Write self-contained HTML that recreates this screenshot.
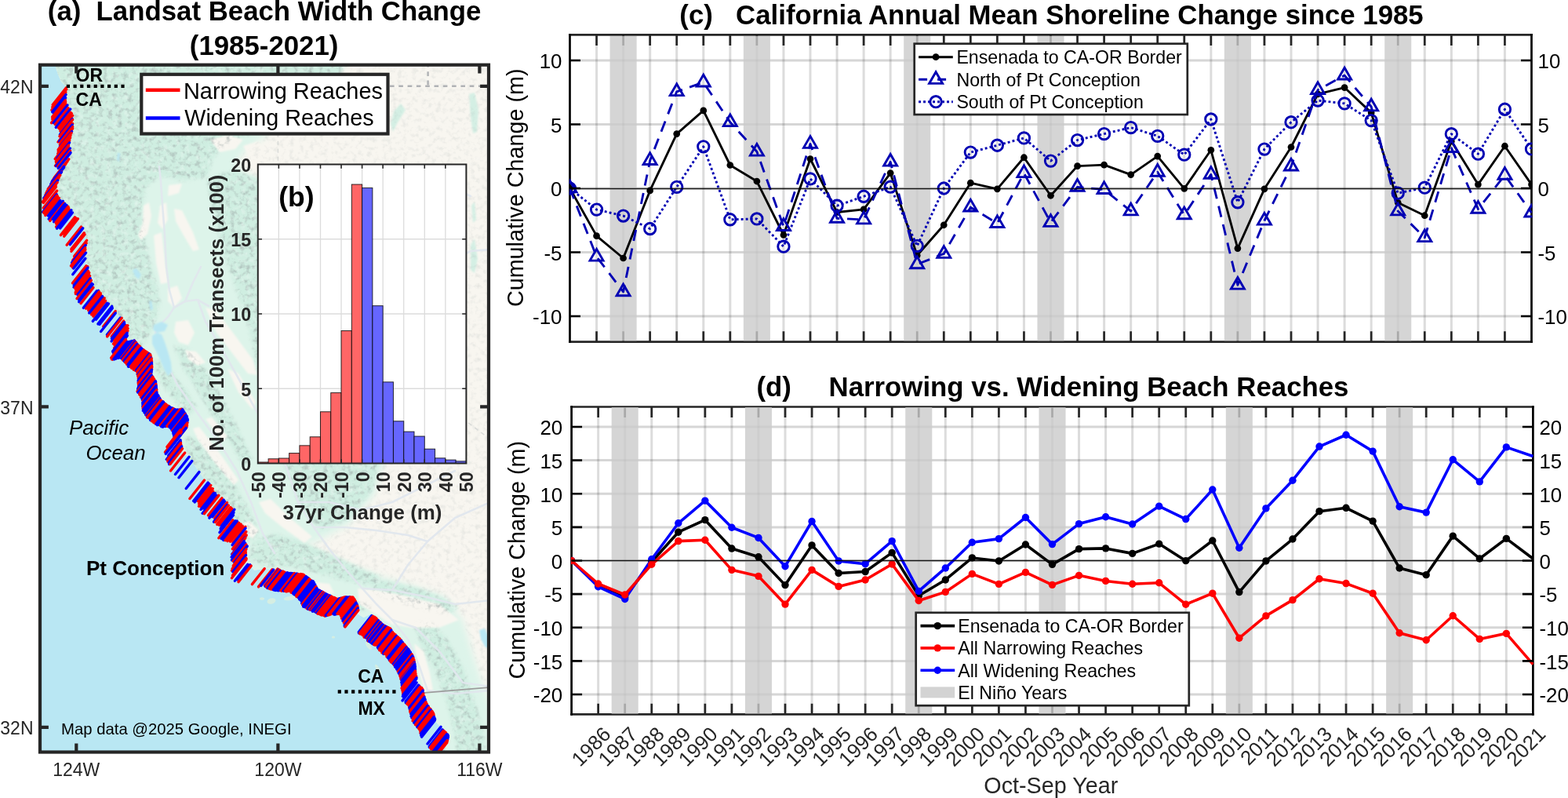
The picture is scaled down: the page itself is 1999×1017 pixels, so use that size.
<!DOCTYPE html>
<html lang="en"><head><meta charset="utf-8"><title>Landsat Beach Width Change</title>
<style>html,body{margin:0;padding:0;background:#fff;overflow:hidden}svg{display:block}</style></head>
<body>
<svg width="1999" height="1017" viewBox="0 0 1999 1017">
<rect width="1999" height="1017" fill="#fff"/>
<clipPath id="mapclip"><rect x="51.0" y="82.7" width="572.0" height="875.8"/></clipPath>
<g clip-path="url(#mapclip)">
<rect x="51.0" y="82.7" width="572.0" height="875.8" fill="#b9e7f3"/>
<defs>
<clipPath id="landclip"><path d="M69.66 73.03L70.95 85.29L74.16 95.09L78.02 104.08L83.8 109.8L84.45 122.05L83.8 129.41L88.3 138.4L92.16 147.38L92.8 158.82L90.87 171.07L87.66 186.6L90.23 195.58L87.02 203.75L82.52 211.11L77.38 220.91L72.88 232.35L70.95 237.25L74.16 251.96L84.45 262.58L92.8 271.57L100.51 281.37L106.94 293.62L110.8 305.88L108.87 318.95L108.87 330.39L112.72 346.73L115.94 358.98L119.79 367.15L127.51 373.69L139.08 387.58L145.5 394.93L157.07 409.64L163.5 416.99L160.28 436.6L171.21 434.15L180.85 444.77L191.78 451.31L193.06 457.03L193.7 469.28L192.42 477.45L198.2 485.62L200.13 501.96L204.63 509.31L212.99 516.67L223.91 522.38L232.27 521.57L238.05 530.55L239.34 534.64L238.05 544.44L232.91 550.98L229.7 547.71L229.05 555.07L230.34 563.23L232.27 575.49L241.91 583.66L250.26 595.92L259.9 609.8L268.9 620.42L272.11 627.78L280.47 632.68L290.11 642.48L298.47 649.02L296.54 661.27L306.18 668.63L313.25 671.08L313.89 681.7L311.32 689.87L315.18 693.95L313.25 702.12L314.53 710.3L312.6 716.01L319.03 720.92L324.17 726.63L335.1 725L354.38 725.82L364.02 729.9L374.3 730.72L386.51 732.35L399.37 741.34L404.51 751.15L412.22 755.23L421.86 760.13L430.86 763.4L439.22 760.95L449.5 760.95L454 767.48L457.21 778.11L455.93 782.19L463.64 787.09L471.35 783.01L479.71 787.91L487.42 796.08L497.06 800.98L502.2 807.52L508.63 813.24L521.48 828.76L526.62 836.93L529.19 849.18L529.84 857.35L531.12 865.52L531.77 872.06L538.83 877.78L539.48 883.5L543.33 896.57L552.33 908.83L554.9 918.63L563.26 928.43L571.61 937.42L569.68 947.23L566.47 959.48L572.9 971.74L640 980L640 60L69.66 60Z"/></clipPath>
<filter id="b3" x="-10%" y="-10%" width="120%" height="120%"><feGaussianBlur stdDeviation="2.2"/></filter>
<filter id="b1" x="-10%" y="-10%" width="120%" height="120%"><feGaussianBlur stdDeviation="1"/></filter>
<filter id="b6" x="-10%" y="-10%" width="120%" height="120%"><feGaussianBlur stdDeviation="5"/></filter>
<filter id="hs" x="0" y="0" width="100%" height="100%" color-interpolation-filters="sRGB"><feTurbulence type="fractalNoise" baseFrequency="0.16" numOctaves="3" seed="11"/><feColorMatrix type="matrix" values="0 0 0 0 0.6  0 0 0 0 0.64  0 0 0 0 0.64  1.5 0 0 0 -0.72"/></filter>
<filter id="hl" x="0" y="0" width="100%" height="100%" color-interpolation-filters="sRGB"><feTurbulence type="fractalNoise" baseFrequency="0.14" numOctaves="3" seed="29"/><feColorMatrix type="matrix" values="0 0 0 0 1  0 0 0 0 1  0 0 0 0 1  1.8 0 0 0 -0.9"/></filter>
<mask id="hsmask" maskUnits="userSpaceOnUse" x="40" y="60" width="600" height="920"><rect x="40" y="60" width="600" height="920" fill="#4a4a4a"/><path d="M40 60L450 60L432 95L395 130L345 168L310 195L300 212L330 228L400 240L445 300L455 380L470 450L488 520L492 580L478 630L445 668L405 690L370 700L420 712L470 730L520 745L565 760L590 790L605 840L625 900L625 980L40 980Z" fill="#000"/><g filter="url(#b3)">
<path d="M40 60L452 60L432 95L395 128L350 160L318 172L296 178L280 190L270 205L264 226L232 230L205 224L186 238L181 270L184 300L190 330L198 356L204 385L200 405L192 425L183 440L150 450L40 320Z" fill="#fff"/>
<path d="M264 232L280 222L300 218L330 228L400 240L430 262L440 300L450 380L466 450L482 520L486 580L474 626L444 662L410 676L385 650L365 600L345 540L330 480L318 420L302 372L288 330L276 285Z" fill="#fff"/>
<path d="M196 458L208 462L222 478L238 498L250 518L244 528L228 520L214 500L200 480Z" fill="#fff"/>
<path d="M222 440L240 445L262 470L280 500L300 540L322 585L310 592L290 560L268 525L250 495L234 470Z" fill="#fff"/>
<path d="M236 556L256 560L276 585L298 615L318 650L330 680L318 690L296 668L272 640L250 608L236 580Z" fill="#fff"/>
<path d="M322 690L350 680L385 690L420 705L455 722L485 735L470 745L440 740L405 730L370 722L335 722L318 712Z" fill="#fff"/>
<path d="M470 738L500 742L535 750L565 762L585 775L570 782L540 776L505 766L478 756Z" fill="#fff"/>
<path d="M528 795L548 792L570 815L590 850L604 890L615 930L622 975L585 975L578 930L568 890L552 850L536 820Z" fill="#fff"/>
<path d="M440 765L468 768L474 776L450 778Z" fill="#fff"/>
</g></mask>
</defs>
<g clip-path="url(#landclip)">
<rect x="40" y="60" width="600" height="920" fill="#f8f6f0"/>
<g filter="url(#b6)"><path d="M40 60L450 60L432 95L395 130L345 168L310 195L300 212L330 228L400 240L445 300L455 380L470 450L488 520L492 580L478 630L445 668L405 690L370 700L420 712L470 730L520 745L565 760L590 790L605 840L625 900L625 980L40 980Z" fill="#ddf4ea"/></g>
<g filter="url(#b3)" fill="#cfeee1">
<path d="M40 60L452 60L432 95L395 128L350 160L318 172L296 178L280 190L270 205L264 226L232 230L205 224L186 238L181 270L184 300L190 330L198 356L204 385L200 405L192 425L183 440L150 450L40 320Z"/>
<path d="M264 232L280 222L300 218L330 228L400 240L430 262L440 300L450 380L466 450L482 520L486 580L474 626L444 662L410 676L385 650L365 600L345 540L330 480L318 420L302 372L288 330L276 285Z"/>
<path d="M196 458L208 462L222 478L238 498L250 518L244 528L228 520L214 500L200 480Z"/>
<path d="M222 440L240 445L262 470L280 500L300 540L322 585L310 592L290 560L268 525L250 495L234 470Z"/>
<path d="M236 556L256 560L276 585L298 615L318 650L330 680L318 690L296 668L272 640L250 608L236 580Z"/>
<path d="M322 690L350 680L385 690L420 705L455 722L485 735L470 745L440 740L405 730L370 722L335 722L318 712Z"/>
<path d="M470 738L500 742L535 750L565 762L585 775L570 782L540 776L505 766L478 756Z"/>
<path d="M528 795L548 792L570 815L590 850L604 890L615 930L622 975L585 975L578 930L568 890L552 850L536 820Z"/>
<path d="M440 765L468 768L474 776L450 778Z"/>
</g>
<g filter="url(#b1)" fill="#d4efe4">
<path d="M598 120L605 118L610 140L608 168L603 170L600 150Z"/>
<path d="M502 142L511 132L517 140L507 156L501 168L498 158Z"/>
<path d="M600 312L605 304L609 330L605 348L600 344Z"/>
<path d="M601 262L605 257L607 280L603 284Z"/>
</g>
<g filter="url(#b1)" fill="#f8f6f0">
<path d="M183 262L190 258L193 275L188 298L180 306L176 300L182 285Z"/>
<path d="M215 236L232 234L228 246L214 250Z"/>
<path d="M204 262L212 258L214 280L207 292L201 284Z"/>
<path d="M222 266L232 268L246 296L254 318L246 320L234 300L224 282Z"/>
<path d="M196 300L206 296L210 330L214 360L205 362L199 335Z"/>
<path d="M268 178L290 172L310 178L300 190L280 194Z"/>
<path d="M310 186L330 180L338 196L320 204Z"/>
<path d="M214 368L226 364L232 380L222 392L214 384Z"/>
<path d="M224 410L240 408L248 424L240 440L228 436L222 424Z"/>
<path d="M236 446L250 448L262 462L252 466L240 458Z"/>
<path d="M262 392L276 396L300 428L322 458L328 478L316 476L296 450L276 424Z"/>
<path d="M290 470L304 476L326 512L322 522L304 500Z"/>
<path d="M246 546L254 544L282 580L304 612L298 618L274 590L252 560Z"/>
<path d="M262 534L270 532L290 556L284 562Z"/>
<path d="M306 668L318 664L330 676L322 686L310 680Z"/>
<path d="M330 640L345 636L372 662L398 684L388 692L360 672L338 654Z"/>
<path d="M456 750L480 752L520 760L560 770L585 790L560 800L525 800L500 796L478 782L458 770Z"/>
<path d="M420 690L460 700L500 715L540 730L580 745L600 740L560 715L510 700L460 690Z"/>
<path d="M402 742L420 744L426 756L410 758Z"/>
<path d="M528 820L540 830L548 858L552 880L542 882L534 856Z"/>
</g>
<g mask="url(#hsmask)"><rect x="40" y="60" width="600" height="920" filter="url(#hs)"/><rect x="40" y="60" width="600" height="920" filter="url(#hl)" opacity="0.5"/></g>
<g fill="none" stroke="#e1e7ee" stroke-width="2.6" stroke-linejoin="round" stroke-linecap="round" opacity="0.95">
<path d="M203 212L205 232L207 260L210 300L212 340L216 370L222 392"/>
<path d="M222 392L236 384L252 382L266 390"/>
<path d="M222 392L214 404L204 414L198 424"/>
<path d="M236 384L246 360L256 340"/>
<path d="M252 382L262 410L280 440L300 475L322 515L345 555L365 595L380 640L400 672"/>
<path d="M216 470L226 490L240 510L258 535L280 565L302 600L320 640L335 680L350 705"/>
<path d="M400 672L420 700L440 725L462 750L480 770L500 790L520 815L535 850L545 880"/>
<path d="M462 750L500 752L540 760L580 770L625 765"/>
<path d="M500 752L520 720L545 690L580 660L625 640"/>
<path d="M545 690L520 682L480 676L440 672L400 672"/>
<path d="M500 790L530 800L560 830L590 870L625 875"/>
<path d="M545 880L580 884L625 880"/>
<path d="M380 640L420 640L460 650L500 640L540 620L580 600"/>
<path d="M560 350L580 330L600 320L625 318"/>
<path d="M520 240L545 225L570 236L600 250"/>
</g>
<g fill="#b9e7f3" filter="url(#b1)">
<path d="M194 428L200 424L206 426L210 436L214 448L218 462L219 474L214 479L209 470L204 458L198 446L194 438Z"/>
<path d="M196 414L206 410L214 414L210 422L200 424L195 420Z"/>
<path d="M169 344L174 342L180 350L177 356L172 352Z"/>
<path d="M611 803L618 801L626 818L626 828L618 824L613 814Z"/>
<path d="M190 384L193 383L195 394L192 396Z"/>
<path d="M150 195L153 195L152 206L149 204Z"/>
</g>
<path d="M497 109.8H625M545.6 80V109.8" stroke="#b0b2b5" stroke-width="2.4" stroke-dasharray="5.6 5.7" fill="none"/>
<path d="M354.4 109.8V355L625 560" stroke="#c4c8c8" stroke-width="1.4" stroke-dasharray="5 5" fill="none" opacity="0.6"/>
<path d="M538.4 883.1L625 876" stroke="#9c9c9c" stroke-width="1.8" fill="none"/>
</g>
<g fill="#d5eee2">
<ellipse cx="346" cy="766" rx="5.5" ry="3.6" transform="rotate(-15 346 766)"/>
<ellipse cx="369.5" cy="762.5" rx="8" ry="2.6" transform="rotate(-8 369.5 762.5)"/>
<ellipse cx="334" cy="763" rx="3" ry="1.8" transform="rotate(0 334 763)"/>
<ellipse cx="470" cy="823" rx="2.5" ry="6" transform="rotate(-35 470 823)"/>
<ellipse cx="482" cy="853" rx="2" ry="7" transform="rotate(-30 482 853)"/>
<ellipse cx="425" cy="812" rx="2.2" ry="1.6" transform="rotate(0 425 812)"/>
<ellipse cx="440" cy="790" rx="1.5" ry="1.2" transform="rotate(0 440 790)"/>
<ellipse cx="378" cy="758" rx="1.2" ry="1" transform="rotate(0 378 758)"/>
</g>
<g fill="none" stroke-width="3.4" stroke-linecap="round"><path d="M84.47 111.68l-17.3 21.88M84.75 113.81l-18 22.76M83.86 117.55l-18.05 22.83" stroke="#f00"/><path d="M84.14 120.56l-17.51 22.15M83.64 124.7l-15.42 19.5" stroke="#00f"/><path d="M83.42 127.86l-16.8 21.24M83.69 130.09l-17 21.5M84.23 133.01l-18.69 23.64" stroke="#f00"/><path d="M86.08 134.03l-17.88 22.61" stroke="#00f"/><path d="M86.98 137.68l-16.66 21.07" stroke="#f00"/><path d="M89.74 139.01l-18.45 23.34" stroke="#00f"/><path d="M90.06 143.28l-15.55 19.66M91.39 144.57l-15.6 19.72M92.62 147.29l-15.7 19.86" stroke="#f00"/><path d="M92.28 151.55l-15.9 20.11" stroke="#00f"/><path d="M92.66 152.57l-16.73 21.15M92.56 157.45l-18.61 23.54" stroke="#f00"/><path d="M92.17 159.16l-16.64 21.05" stroke="#00f"/><path d="M92.71 161.51l-16.03 20.27M92.59 163.85l-16.31 20.62" stroke="#f00"/><path d="M91.61 167.56l-15.35 19.42" stroke="#00f"/><path d="M91.04 169.36l-16.94 21.43M90.01 172.76l-15.82 20.01M89.62 175.67l-15.95 20.17M88.73 179.13l-18.53 23.44" stroke="#f00"/><path d="M88.64 181.79l-15.67 19.82" stroke="#00f"/><path d="M87.57 185.08l-16.17 20.46M87.38 186.62l-15.9 20.1M87.66 189.47l-17.2 21.76" stroke="#f00"/><path d="M89.36 189.06l-17.85 22.57" stroke="#00f"/><path d="M89.59 192.3l-15.9 20.11" stroke="#f00"/><path d="M90.06 194.58l-15.77 19.95" stroke="#00f"/><path d="M87.84 202.71l-18.57 23.49M86.1 205.36l-17.78 22.49M83.95 208.61l-17.16 21.7" stroke="#f00"/><path d="M81.66 212.24l-15.74 19.91M81.57 213.37l-16.91 21.39" stroke="#00f"/><path d="M78.58 218.75l-17.42 22.04" stroke="#f00"/><path d="M78.46 219.26l-15.61 19.74" stroke="#00f"/><path d="M76.36 223l-16.62 21.02M76.8 223.27l-18.15 22.95M75.17 226.56l-17.34 21.94" stroke="#f00"/><path d="M73.75 229.78l-17.95 22.7" stroke="#00f"/><path d="M73.08 232.56l-15.99 20.22M71.09 236.05l-16.8 21.25M71.33 238.32l-15.97 20.2M72.63 243.12l-17.28 21.86" stroke="#f00"/><path d="M72.27 247.78l-17.72 22.41" stroke="#00f"/><path d="M72.63 249.19l-16.9 21.38M73.46 250.45l-17.07 21.59M75.39 252.53l-17.42 22.04" stroke="#f00"/><path d="M76.79 255.49l-15.44 19.53M80.22 256.34l-17.99 22.75" stroke="#00f"/><path d="M81.61 258.73l-17.92 22.66" stroke="#f00"/><path d="M82.91 259.47l-15.69 19.85M85.14 261.65l-16.55 20.94" stroke="#00f"/><path d="M86.96 263.33l-15.91 20.12M87.64 265.11l-15.91 20.12M88.65 267.56l-17.07 21.59" stroke="#f00"/><path d="M90.93 267.91l-18.38 23.25M92.39 270.94l-15.74 19.91" stroke="#00f"/><path d="M95.46 276.86l-18.01 22.78M97.14 278.04l-16 20.23M99.44 278.77l-17.74 22.44M103.51 288.99l-18.39 23.26" stroke="#f00"/><path d="M105.71 290.85l-16.46 20.82" stroke="#00f"/><path d="M107.24 296.76l-16.44 20.79M108.02 298.75l-17.06 21.57M110.7 306.28l-16.05 20.3M110.19 309.79l-17.47 22.1" stroke="#f00"/><path d="M109.18 312.58l-17.58 22.24" stroke="#00f"/><path d="M108.68 315.86l-18.19 23.01M108.92 318.24l-15.98 20.21M108.07 321.64l-15.39 19.47" stroke="#f00"/><path d="M109.56 322.18l-15.71 19.87M108.88 329.38l-16.14 20.41" stroke="#00f"/><path d="M109.92 338.81l-17.4 22.01M111.73 339.65l-15.38 19.45" stroke="#f00"/><path d="M111.98 341.19l-17.76 22.46M111.35 344.18l-17.28 21.85" stroke="#00f"/><path d="M112.61 345.63l-17.1 21.63M113.74 347.68l-17.1 21.63M113.65 350.51l-17.47 22.1M114.58 351.48l-18.21 23.03" stroke="#f00"/><path d="M115.27 354.86l-16.37 20.71" stroke="#00f"/><path d="M116.35 357.39l-18.32 23.17" stroke="#f00"/><path d="M117.18 361.24l-16.62 21.02M118.33 362.33l-17.7 22.38" stroke="#00f"/><path d="M119.02 366.56l-15.98 20.21" stroke="#f00"/><path d="M123.37 370.85l-17.01 21.51M125.57 370.39l-15.66 19.81" stroke="#00f"/><path d="M126.55 371.77l-16.94 21.42M128.26 373.69l-15.84 20.03M128.51 375.65l-15.76 19.93" stroke="#f00"/><path d="M130.62 377.49l-16.89 21.36M131.16 378.92l-15.35 19.41" stroke="#00f"/><path d="M133.16 379.93l-16.52 20.9M134.54 383.36l-15.62 19.76" stroke="#f00"/><path d="M136.57 386.29l-18.28 23.12M138.38 387.1l-15.95 20.17M142.74 390.38l-17.83 22.54M143.31 392.59l-16.42 20.77" stroke="#00f"/><path d="M147.24 396.46l-15.54 19.65" stroke="#f00"/><path d="M147.28 398.93l-18.67 23.61M153.47 405.05l-17.05 21.56" stroke="#00f"/><path d="M155.27 405.29l-18.63 23.56M157.7 409.11l-15.47 19.57" stroke="#f00"/><path d="M158.64 410.78l-16.24 20.54M159.16 413.45l-17.07 21.59" stroke="#00f"/><path d="M161.24 414.81l-15.56 19.68M162.91 414.92l-18.46 23.35M163.1 418.51l-16.98 21.48M162.93 421.57l-17.33 21.92" stroke="#f00"/><path d="M162.06 424.4l-18.46 23.35M161.89 426.08l-17.93 22.67M162.31 427.94l-17.63 22.29" stroke="#00f"/><path d="M160.35 432.57l-18.66 23.6M161.01 434.3l-18.61 23.53M160.75 436.48l-17.23 21.79" stroke="#f00"/><path d="M162 435.98l-17.21 21.77M163.11 435.89l-17.37 21.97M164.06 435.71l-16.63 21.04M164.94 435.48l-17.19 21.73M166.05 435.19l-16.63 21.03M167.19 434.95l-17 21.5M167.88 434.95l-16.77 21.21M169.07 434.51l-16.68 21.1M170.02 434.5l-17 21.5M171.24 433.88l-17.13 21.67" stroke="#00f"/><path d="M171.64 434.68l-16.59 20.99" stroke="#f00"/><path d="M172.22 435.42l-17.05 21.57M172.93 435.86l-16.7 21.13" stroke="#00f"/><path d="M173.54 436.65l-17.31 21.89M174.33 437.52l-17.27 21.85" stroke="#f00"/><path d="M175.04 438.55l-16.87 21.33M175.78 439.48l-17.05 21.56" stroke="#00f"/><path d="M176.79 440.26l-17.08 21.6M177.59 441.26l-16.93 21.41M178.52 441.61l-17.33 21.92M178.98 442.95l-17.11 21.63" stroke="#f00"/><path d="M179.9 443.3l-16.78 21.22M180.62 444.06l-16.86 21.33M180.92 445.23l-17.43 22.04M182.24 445.42l-17.31 21.89" stroke="#00f"/><path d="M183.29 446.1l-16.74 21.18M184.1 446.61l-16.89 21.37M184.86 447.21l-17.3 21.88M185.52 447.81l-16.67 21.08M186.69 448.28l-16.51 20.88M187.69 449l-17.48 22.1M188.54 449.64l-17.05 21.56M189.51 450.33l-17.24 21.81" stroke="#f00"/><path d="M190.28 450.71l-16.59 20.98M190.95 451.2l-16.99 21.49" stroke="#00f"/><path d="M191.6 451.9l-16.83 21.29M191.94 452.68l-17.04 21.55M192.14 453.86l-16.91 21.38M192.39 454.99l-17.31 21.89" stroke="#f00"/><path d="M192.7 456.01l-17.02 21.53" stroke="#00f"/><path d="M193.2 456.93l-17.42 22.04M193.22 458.18l-17.19 21.74M192.98 459.42l-16.77 21.21M193.4 459.95l-16.8 21.25M193.53 460.89l-17.26 21.83" stroke="#f00"/><path d="M193.51 462.26l-16.6 21M193.35 463.56l-17.22 21.78M193.62 464.2l-16.78 21.22M193.34 465.52l-17.05 21.56" stroke="#00f"/><path d="M193.64 466.39l-17.42 22.03M193.76 467.35l-16.98 21.48M193.73 468.53l-17.31 21.89M193.43 469.74l-16.77 21.21M193.53 470.46l-16.5 20.87" stroke="#f00"/><path d="M193.52 471.37l-17.11 21.64M193 472.8l-16.75 21.19M193.17 473.28l-17.5 22.14M193.14 474.16l-17.28 21.85M192.93 475.26l-17.33 21.92" stroke="#00f"/><path d="M192.43 476.86l-17.4 22M192.54 477.62l-17.04 21.56" stroke="#f00"/><path d="M193.23 478.04l-17.43 22.04M193.48 478.98l-17.04 21.56M194.29 479.83l-16.81 21.26" stroke="#00f"/><path d="M194.92 480.39l-17.17 21.72M195.1 481.47l-17.17 21.72M195.7 482.01l-16.61 21.01M196.45 482.86l-16.97 21.47M196.88 484.23l-17.36 21.96M197.49 484.78l-16.65 21.05" stroke="#f00"/><path d="M198.18 485.69l-17.26 21.83M198.56 486.66l-16.87 21.34M198.38 487.84l-16.97 21.46M198.51 488.78l-16.59 20.99" stroke="#00f"/><path d="M198.74 489.65l-16.67 21.09M198.93 490.4l-16.58 20.97" stroke="#f00"/><path d="M199.01 491.69l-17.28 21.85M199.18 492.47l-16.63 21.03M198.96 494.13l-16.98 21.48M199.37 494.61l-17.12 21.65M199.39 495.85l-17.5 22.13" stroke="#00f"/><path d="M199.75 496.77l-17.15 21.69M199.49 498.15l-17.29 21.87M199.57 499.19l-17.27 21.84" stroke="#f00"/><path d="M199.87 500.07l-17.01 21.52M199.92 501.23l-17.51 22.14M200.06 502.08l-16.52 20.89M200.85 503.01l-16.98 21.47M201.55 503.93l-17.38 21.98M202.06 504.73l-17.23 21.8M202.37 506.23l-16.55 20.94M203.23 506.78l-17.4 22.01" stroke="#00f"/><path d="M203.4 507.9l-16.78 21.23" stroke="#f00"/><path d="M204.04 508.41l-16.68 21.09M204.29 509.48l-16.67 21.09" stroke="#00f"/><path d="M204.96 509.98l-17.26 21.83M205.95 510.76l-17.14 21.68M207.01 511.44l-16.52 20.9" stroke="#f00"/><path d="M207.81 511.85l-17.02 21.53M208.57 512.27l-17.14 21.68M209.1 513.35l-17.47 22.09M209.9 514.16l-17.13 21.66" stroke="#00f"/><path d="M210.79 514.7l-17.4 22M211.86 515.25l-17.33 21.92M212.59 516.34l-16.83 21.28M213.4 516.69l-17.42 22.03M214.28 517.18l-16.87 21.34M215.3 517.64l-17.38 21.99" stroke="#f00"/><path d="M216.24 518.35l-17.48 22.11M217.23 519.03l-17.05 21.56M217.95 519.47l-17.51 22.14M219.16 519.95l-17.05 21.56M220.48 520.24l-16.92 21.4" stroke="#00f"/><path d="M221.05 520.92l-16.62 21.01M221.91 521.15l-16.74 21.17" stroke="#f00"/><path d="M222.99 521.81l-17.32 21.91M224.03 522.02l-16.54 20.91M224.53 522.58l-17 21.5M226.1 522.05l-16.7 21.12M227.1 522.27l-16.69 21.11M228.34 522.18l-16.67 21.08" stroke="#00f"/><path d="M229.31 522.08l-16.69 21.1M230.89 521.59l-17.23 21.79M231.8 521.4l-17.22 21.77" stroke="#f00"/><path d="M232.76 521.85l-16.91 21.39M233.33 522.88l-17.19 21.75M233.99 523.92l-16.79 21.24M234.5 525.05l-16.61 21M235.29 525.88l-16.67 21.09M236.07 526.86l-16.96 21.45" stroke="#00f"/><path d="M236.28 527.92l-16.5 20.86" stroke="#f00"/><path d="M237.11 528.79l-16.58 20.97M237.56 529.85l-16.77 21.22M238.38 530.55l-17.5 22.13M238.19 531.98l-16.88 21.35M238.65 532.78l-17.06 21.57M239.03 533.7l-17.29 21.87M239.32 534.63l-17.19 21.74M239.37 535.45l-17.29 21.86M238.9 537.1l-16.94 21.42M238.9 538.02l-16.73 21.16" stroke="#00f"/><path d="M238.89 539.01l-16.76 21.19M238.43 540.35l-16.95 21.43M238.3 541.58l-17.11 21.64M238.57 542.03l-17.36 21.96M238.15 543.43l-17.14 21.68M238.12 544.18l-16.55 20.92" stroke="#f00"/><path d="M237.33 545.36l-17.29 21.86M236.82 546.01l-17.01 21.51M236.06 546.98l-17.16 21.71M235.44 547.77l-16.97 21.46M234.77 548.61l-16.62 21.02M234.18 549.37l-17.25 21.82M233.5 550.23l-16.91 21.38M231.94 551.69l-16.9 21.38" stroke="#00f"/><path d="M231.32 550.27l-17.9 22.63M230.07 547.88l-17.18 21.72M229.09 552.71l-18.64 23.57M229.85 553.59l-17.51 22.14" stroke="#f00"/><path d="M229.71 555.08l-18.44 23.32M230.13 560.88l-15.47 19.56M230.29 562.68l-18.03 22.81" stroke="#00f"/><path d="M230.55 564.45l-16.91 21.38M230.8 566.7l-16.96 21.44" stroke="#f00"/><path d="M231.68 568.83l-16.53 20.91M231.82 571.27l-16.19 20.48" stroke="#00f"/><path d="M232.58 571.73l-15.65 19.79M235.69 577.02l-18.15 22.96" stroke="#f00"/><path d="M241.07 582.24l-17.58 22.23M244.7 587.65l-16.7 21.12M253.86 601.61l-16.56 20.94" stroke="#00f"/><path d="M260.47 612.01l-18.55 23.46" stroke="#f00"/><path d="M265.14 615.09l-18.46 23.35M266.67 616.55l-18.45 23.33" stroke="#00f"/><path d="M268.74 618.55l-16.12 20.38M269.47 622.24l-15.81 20M271.23 622.88l-17.68 22.36M271.76 626.38l-15.51 19.62" stroke="#f00"/><path d="M272.46 628.67l-16.32 20.64M274.25 628.47l-15.42 19.5M276.21 631.4l-18.07 22.86" stroke="#00f"/><path d="M278.91 631.33l-18.55 23.46M282.94 634.85l-17.41 22.02" stroke="#f00"/><path d="M285.16 637l-18.29 23.13M286.49 638.83l-15.76 19.93" stroke="#00f"/><path d="M289.45 640.62l-15.81 19.99" stroke="#f00"/><path d="M289.58 643.55l-17.07 21.59" stroke="#00f"/><path d="M291.41 644.02l-16.98 21.47M293.96 646.65l-17.21 21.76M295.86 648.33l-16.48 20.84" stroke="#f00"/><path d="M298.87 649.4l-16.65 21.05M297.67 652.46l-16.43 20.78M297.96 653.39l-16.71 21.13M297.47 656.52l-17.5 22.13" stroke="#00f"/><path d="M296.89 662.87l-18.08 22.87" stroke="#f00"/><path d="M299.97 663.83l-17.93 22.67M302.24 664.09l-18.26 23.09M302.9 665.76l-18.01 22.77" stroke="#00f"/><path d="M304.68 666.4l-17.62 22.29M307.19 667.96l-17.22 21.77M309.29 670.36l-15.73 19.89M312.93 671.3l-15.98 20.21" stroke="#f00"/><path d="M313.02 673.2l-16.9 21.38" stroke="#00f"/><path d="M313.83 677.59l-17.45 22.07M314.23 682.1l-15.7 19.86" stroke="#f00"/><path d="M312.39 685.17l-16.68 21.09" stroke="#00f"/><path d="M312.84 685.67l-16.57 20.96" stroke="#f00"/><path d="M311.16 689.67l-16.06 20.31M312.71 692.04l-17.26 21.83" stroke="#00f"/><path d="M313.94 693.97l-16.8 21.25" stroke="#f00"/><path d="M315.24 696.12l-16.4 20.74" stroke="#00f"/><path d="M313.95 700.05l-16.66 21.07M313.28 703.09l-17.18 21.72M313.3 704.67l-17.89 22.62M313.34 706.44l-15.78 19.95" stroke="#f00"/><path d="M313.49 707.62l-16.71 21.13" stroke="#00f"/><path d="M313.89 711.27l-17.4 22M314.18 712.06l-16.29 20.6M313.95 713.32l-18.5 23.4" stroke="#f00"/><path d="M315.91 719.41l-16.52 20.89M318.83 719.76l-15.34 19.4" stroke="#00f"/><path d="M320.17 721.16l-16.2 20.49M337.2 724.7l-15.78 19.96M347.02 725.72l-17.52 22.16" stroke="#f00"/><path d="M348.71 726.12l-16.02 20.26" stroke="#00f"/><path d="M354.01 725.1l-16.57 20.95" stroke="#f00"/><path d="M355.1 725.97l-16.9 21.38" stroke="#00f"/><path d="M355.92 726.19l-16.51 20.88M356.83 726.7l-17.08 21.6M357.37 727.33l-17 21.5" stroke="#f00"/><path d="M358.24 727.84l-17.18 21.73M359.36 728.35l-16.85 21.32" stroke="#00f"/><path d="M360.72 728.12l-17.42 22.03M361.19 728.89l-16.94 21.42M362.51 728.94l-17.43 22.05M363.27 729.56l-16.93 21.42M364.33 729.96l-16.87 21.34" stroke="#f00"/><path d="M365.6 729.99l-17.13 21.66M366.56 729.87l-17.44 22.06M368.26 730.58l-17.24 21.81M369.43 730.67l-16.62 21.02M370.6 730.53l-17.35 21.94M371.71 730.52l-17.3 21.88M372.87 730.75l-17.38 21.98M374.26 730.74l-16.95 21.44" stroke="#00f"/><path d="M375.33 730.67l-17.47 22.1M376.22 731.25l-17.26 21.83M377.07 731.35l-16.55 20.93" stroke="#f00"/><path d="M378.25 731.02l-17.32 21.9M379.51 731.22l-17.46 22.09" stroke="#00f"/><path d="M380.14 731.75l-16.89 21.36M381.01 731.97l-16.56 20.95M382.24 731.94l-17.38 21.99M383.5 731.6l-16.93 21.41M384.26 731.89l-17.13 21.67M385.29 731.93l-16.67 21.09M386.39 732.06l-16.62 21.02M387.35 732.63l-16.85 21.32M388.3 733.46l-17.24 21.8M389.23 734.38l-16.64 21.04" stroke="#f00"/><path d="M390.26 734.61l-16.77 21.22M390.95 735.37l-17.01 21.52M391.42 736.16l-16.62 21.01M392.61 736.34l-17.15 21.69M393.66 737.07l-16.91 21.39" stroke="#00f"/><path d="M394.4 737.81l-16.78 21.22M395.2 738.6l-17.2 21.75M396.13 739.47l-16.62 21.03M396.93 739.95l-16.84 21.3" stroke="#f00"/><path d="M397.87 740.25l-17.16 21.7M399.09 740.68l-16.51 20.88M399.34 741.79l-17.5 22.13M400.22 742.28l-16.65 21.06M400.5 743.75l-16.98 21.47M400.84 744.62l-16.51 20.88M401.57 744.92l-17.04 21.55M402.22 746.81l-17.44 22.06" stroke="#00f"/><path d="M402.96 747.54l-17.02 21.52M403.16 748.89l-17.47 22.09" stroke="#f00"/><path d="M404.01 749.58l-17.28 21.86M404.15 751.17l-17.37 21.96M405.15 751.52l-16.85 21.31M406.37 751.95l-17.3 21.87M407.4 752.34l-17.07 21.59M408 753.25l-16.79 21.23" stroke="#00f"/><path d="M408.84 753.52l-17.5 22.13" stroke="#f00"/><path d="M409.91 753.64l-17.36 21.95M410.47 754.33l-17.48 22.11" stroke="#00f"/><path d="M411.82 754.57l-16.91 21.39M412.35 755.49l-17.24 21.8" stroke="#f00"/><path d="M413.24 755.74l-16.9 21.38" stroke="#00f"/><path d="M414.12 756.02l-16.89 21.36" stroke="#f00"/><path d="M415.15 756.71l-16.83 21.28M415.92 757.17l-17.46 22.08M417.06 757.51l-16.89 21.36M417.93 758.07l-16.87 21.33M418.96 758.61l-16.93 21.41" stroke="#00f"/><path d="M419.92 759.04l-16.66 21.07" stroke="#f00"/><path d="M420.83 759.19l-17.22 21.77M421.44 759.94l-17.02 21.53" stroke="#00f"/><path d="M422.6 759.99l-17.48 22.1M423.4 760.77l-16.86 21.33M424.43 761.14l-17.11 21.64M425.27 761.58l-17.02 21.52M426.42 761.6l-16.75 21.18M427.13 761.96l-17.37 21.96M427.96 762.75l-16.58 20.97M428.93 762.96l-16.81 21.26M430.1 763.34l-16.55 20.93M431.15 763.53l-17.05 21.57" stroke="#f00"/><path d="M432.41 762.7l-17.08 21.6M432.99 763.02l-17.18 21.73M434.38 762.34l-17.29 21.86" stroke="#00f"/><path d="M435.41 762.22l-17.18 21.73M436.52 761.91l-17.23 21.79M437.56 761.54l-17.34 21.93M438.82 761.14l-17.19 21.75M440.12 760.84l-16.59 20.98M441.01 760.8l-16.65 21.06" stroke="#f00"/><path d="M441.66 761.08l-16.69 21.11M442.76 760.96l-17.3 21.89M443.67 761.13l-17.36 21.96M444.78 761.05l-17.33 21.92M445.84 760.92l-17.19 21.74" stroke="#00f"/><path d="M446.7 761.08l-16.64 21.05M447.83 761.03l-16.99 21.49M448.68 761.22l-16.54 20.91M449.86 761.07l-16.74 21.17M450.44 762.19l-16.67 21.09M451.26 763.08l-16.61 21.01M451.89 763.93l-17 21.5M452.34 765.06l-16.65 21.06M453.14 766.05l-17.48 22.11M453.42 767.31l-16.65 21.06" stroke="#f00"/><path d="M453.97 768l-16.61 21.01M454.36 769.13l-17.43 22.05M454.88 769.92l-17.22 21.78M455.19 770.83l-16.76 21.2" stroke="#00f"/><path d="M455.52 772.03l-17.17 21.72M455.89 772.64l-16.57 20.95M456.02 773.91l-16.65 21.05" stroke="#f00"/><path d="M456.29 775.15l-17.11 21.64M456.45 776.55l-17.16 21.71" stroke="#00f"/><path d="M456.86 777.58l-16.93 21.41" stroke="#f00"/><path d="M473.82 784.61l-16.55 20.93M474.51 785.32l-17.07 21.59" stroke="#00f"/><path d="M475.51 785.39l-17.04 21.55M476.4 786.08l-17.2 21.75M477.63 786.35l-16.59 20.99M478.31 787.5l-16.52 20.89M479.43 787.52l-17.41 22.02M480.22 788.51l-16.64 21.05M480.72 789.33l-16.93 21.41M481.68 790.09l-17.51 22.14" stroke="#f00"/><path d="M482.47 790.86l-16.58 20.97M483.15 791.99l-16.6 21" stroke="#00f"/><path d="M484.37 792.48l-16.64 21.05" stroke="#f00"/><path d="M485.31 793.33l-16.49 20.86M485.89 794.35l-17.34 21.93" stroke="#00f"/><path d="M486.8 795.12l-17.41 22.01" stroke="#f00"/><path d="M487.41 795.89l-17.02 21.53M488.19 796.2l-16.91 21.39M488.83 797.18l-16.72 21.14M489.8 797.38l-17.11 21.64" stroke="#00f"/><path d="M490.78 797.55l-16.68 21.09" stroke="#f00"/><path d="M491.47 798.4l-17.18 21.72M492.59 798.48l-17.27 21.84M493.48 799.05l-17.5 22.13" stroke="#00f"/><path d="M494.27 799.49l-17.51 22.14M495.25 799.8l-17.5 22.14M496.33 800.22l-17.45 22.07M497.42 800.83l-16.54 20.92M498.19 801.86l-16.65 21.06" stroke="#f00"/><path d="M498.84 803.05l-17.44 22.06M499.08 804.13l-17.22 21.78M499.89 805.08l-17.18 21.73" stroke="#00f"/><path d="M500.53 805.68l-16.86 21.33M501.12 806.76l-17.38 21.98M502.23 807.33l-16.62 21.01M502.84 808.43l-17.02 21.53M504.02 808.69l-16.76 21.19M504.33 809.94l-17.43 22.04" stroke="#f00"/><path d="M505.51 810.27l-16.65 21.06M506.12 811.53l-17.3 21.88" stroke="#00f"/><path d="M507.33 811.75l-16.96 21.45M507.81 812.8l-16.51 20.89M509.02 813.3l-16.66 21.07M509.64 814.1l-16.51 20.88M510.26 815.16l-17.16 21.7M511.24 815.81l-16.8 21.25" stroke="#f00"/><path d="M511.7 816.63l-17.19 21.74M512.13 817.56l-16.64 21.04M513.04 818.25l-17.09 21.61M513.56 819.34l-17.18 21.73" stroke="#00f"/><path d="M514.18 820.56l-17.01 21.51M515.36 821.03l-17.23 21.79M515.94 821.79l-17.46 22.08M516.49 822.81l-16.84 21.3M517.13 823.35l-17.01 21.52M517.7 824.28l-16.76 21.2" stroke="#f00"/><path d="M518.17 824.94l-16.82 21.27M518.94 825.74l-16.52 20.89" stroke="#00f"/><path d="M519.32 826.56l-16.73 21.16" stroke="#f00"/><path d="M520.09 826.89l-16.59 20.99M520.96 827.68l-17.37 21.96M521.09 828.82l-17 21.5M521.95 829.21l-16.95 21.43M522.33 830.44l-16.74 21.17M523.24 831l-17.39 21.99M523.39 832.24l-16.54 20.91M524.03 833.01l-16.97 21.46" stroke="#00f"/><path d="M524.95 833.78l-17.49 22.11M525.51 834.81l-16.89 21.36" stroke="#f00"/><path d="M525.82 835.83l-17.49 22.13M526.28 836.92l-16.55 20.93M526.71 837.54l-17.38 21.98" stroke="#00f"/><path d="M526.88 838.79l-16.72 21.15M527 840.21l-17 21.5M527.59 840.48l-16.61 21.01M527.84 841.29l-17.19 21.75M527.9 842.48l-16.6 20.99M527.96 843.55l-17.03 21.54" stroke="#f00"/><path d="M528.28 844.17l-16.83 21.28" stroke="#00f"/><path d="M528.26 845.38l-16.59 20.98" stroke="#f00"/><path d="M528.74 846.09l-16.74 21.18M528.97 846.81l-16.82 21.28M528.75 848.45l-17.03 21.53M529.28 848.79l-16.9 21.38M529.3 850.03l-16.61 21.01M529.27 851.2l-17.06 21.57M529.41 852.28l-16.75 21.18M529.4 853.69l-16.68 21.1" stroke="#00f"/><path d="M529.49 855l-17.48 22.1M529.55 855.83l-16.76 21.2M529.54 857.03l-16.55 20.93M529.66 857.8l-16.75 21.18M530.01 858.88l-16.96 21.45M530.26 861.29l-16.74 21.17M530.8 861.85l-16.91 21.38M530.78 862.97l-17.07 21.59" stroke="#f00"/><path d="M531.05 863.91l-17.12 21.65M530.86 865.32l-17.5 22.13M531.13 869.94l-18.14 22.94M533.53 873.06l-16.52 20.9M534.43 873.91l-17.17 21.71M534.82 874.93l-16.51 20.89" stroke="#00f"/><path d="M535.77 875.36l-17.13 21.66M536.51 876.22l-17 21.51M537.68 876.56l-16.57 20.95M538.27 877.85l-17.1 21.63M538.84 878.36l-16.79 21.24M538.98 879.36l-17.23 21.79" stroke="#f00"/><path d="M539.22 880l-17.27 21.84M538.96 881.46l-16.9 21.37M539.29 882.29l-16.55 20.93M539.39 883.19l-16.89 21.36" stroke="#00f"/><path d="M539.84 884.15l-17.08 21.6M539.79 885.73l-17.05 21.56M540.25 886.67l-16.82 21.27M540.6 887.37l-17.07 21.59" stroke="#f00"/><path d="M541.08 888.44l-17.17 21.71M541.22 889.65l-16.64 21.04M541.58 890.78l-17.5 22.13M542.12 891.45l-17.26 21.83M542.1 893.16l-17.19 21.75M542.52 893.88l-16.86 21.32" stroke="#00f"/><path d="M542.91 894.69l-16.64 21.05M543.21 895.38l-16.74 21.18M543.34 896.9l-17.3 21.88M544.21 897.13l-17.2 21.75M544.42 898.32l-16.71 21.13" stroke="#f00"/><path d="M545.13 899.29l-17.35 21.95M546.03 899.95l-17.29 21.87M546.35 900.81l-17.05 21.56" stroke="#00f"/><path d="M546.82 901.84l-17.29 21.87M547.45 902.54l-17.09 21.62M547.98 903.26l-16.85 21.3M548.95 903.63l-16.98 21.47" stroke="#f00"/><path d="M549.2 904.81l-17.27 21.84M549.87 905.59l-16.82 21.27" stroke="#00f"/><path d="M550.89 906.28l-17.37 21.97M551.53 907.3l-17.2 21.75M551.96 908.08l-17.2 21.75M552.44 908.88l-17.06 21.58M552.75 909.82l-16.79 21.23M553 910.77l-17.09 21.62M553.08 911.71l-16.97 21.46M553.24 912.61l-17.26 21.83" stroke="#f00"/><path d="M553.38 913.66l-16.74 21.17M553.79 914.6l-16.94 21.43M554.19 915.36l-17.35 21.95M554.65 916.46l-17.15 21.69M554.44 917.95l-16.86 21.33M562.05 926.34l-17.12 21.65M564.11 929.89l-16.85 21.32M564.74 930.39l-17.37 21.97" stroke="#00f"/><path d="M565.4 931.26l-17.06 21.58M566.37 931.88l-17.09 21.62M567.01 932.68l-17.41 22.02M567.79 933.11l-17.04 21.56M568.47 933.7l-16.51 20.88M568.93 934.85l-16.56 20.95" stroke="#f00"/><path d="M569.59 935.82l-17.02 21.53M570.63 936.04l-17.3 21.88M570.99 937.01l-17.23 21.79M571.39 937.8l-17.25 21.81M571.15 938.98l-17.31 21.89M571.39 939.5l-16.61 21M570.72 941.22l-16.8 21.25M570.74 942.04l-17.15 21.69" stroke="#00f"/><path d="M570.26 943.47l-16.77 21.21M570.39 944.14l-16.68 21.1M569.79 945.73l-17.2 21.76M569.75 946.49l-16.88 21.35" stroke="#f00"/></g>
</g>
<path d="M84.8 109.85H159.5M430.7 881.5H506" stroke="#000" stroke-width="4.3" stroke-dasharray="4.2 4.5" fill="none"/>
<g font-family="Liberation Sans, sans-serif" font-size="23" font-weight="bold" fill="#000">
<text x="96.6" y="104.1">OR</text><text x="96.6" y="134.7">CA</text>
<text x="456.2" y="869.9">CA</text><text x="456.4" y="911">MX</text>
</g>
<text x="109.9" y="733" font-family="Liberation Sans, sans-serif" font-size="26.05" font-weight="bold" fill="#000">Pt Conception</text>
<g font-family="Liberation Sans, sans-serif" font-size="25.9" font-style="italic" fill="#000"><text x="87.9" y="553.8">Pacific</text><text x="109.4" y="585.7">Ocean</text></g>
<text x="78.1" y="935.8" font-family="Liberation Sans, sans-serif" font-size="20.3" fill="#000">Map data @2025 Google, INEGI</text>
<rect x="180.3" y="94.8" width="314.2" height="75.7" fill="#fff" stroke="#262626" stroke-width="4.2"/>
<path d="M185.8 114.8H229.5" stroke="#f00" stroke-width="4.5"/><path d="M185.8 150.5H229.5" stroke="#00f" stroke-width="4.5"/>
<g font-family="Liberation Sans, sans-serif" font-size="28.75" fill="#000"><text x="233.9" y="125.8" font-size="28.95">Narrowing Reaches</text><text x="235.3" y="160.4">Widening Reaches</text></g>
<rect x="328.8" y="209.5" width="265.6" height="381" fill="#fff"/>
<path d="M355.36 209.5V590.5M381.92 209.5V590.5M408.48 209.5V590.5M435.04 209.5V590.5M461.6 209.5V590.5M488.16 209.5V590.5M514.72 209.5V590.5M541.28 209.5V590.5M567.84 209.5V590.5M328.8 495.25H594.4M328.8 400H594.4M328.8 304.75H594.4" stroke="#262626" stroke-opacity="0.16" stroke-width="1.3" fill="none"/>
<rect x="328.8" y="588.98" width="13.28" height="1.52" fill="#ff6666" stroke="#000" stroke-opacity="0.8" stroke-width="1"/>
<rect x="342.08" y="584.78" width="13.28" height="5.72" fill="#ff6666" stroke="#000" stroke-opacity="0.8" stroke-width="1"/>
<rect x="355.36" y="584.02" width="13.28" height="6.48" fill="#ff6666" stroke="#000" stroke-opacity="0.8" stroke-width="1"/>
<rect x="368.64" y="577.55" width="13.28" height="12.95" fill="#ff6666" stroke="#000" stroke-opacity="0.8" stroke-width="1"/>
<rect x="381.92" y="567.83" width="13.28" height="22.67" fill="#ff6666" stroke="#000" stroke-opacity="0.8" stroke-width="1"/>
<rect x="395.2" y="556.78" width="13.28" height="33.72" fill="#ff6666" stroke="#000" stroke-opacity="0.8" stroke-width="1"/>
<rect x="408.48" y="524.78" width="13.28" height="65.72" fill="#ff6666" stroke="#000" stroke-opacity="0.8" stroke-width="1"/>
<rect x="421.76" y="500.58" width="13.28" height="89.92" fill="#ff6666" stroke="#000" stroke-opacity="0.8" stroke-width="1"/>
<rect x="435.04" y="421.53" width="13.28" height="168.97" fill="#ff6666" stroke="#000" stroke-opacity="0.8" stroke-width="1"/>
<rect x="448.32" y="235.03" width="13.28" height="355.47" fill="#ff6666" stroke="#000" stroke-opacity="0.8" stroke-width="1"/>
<rect x="461.6" y="239.41" width="13.28" height="351.09" fill="#6666ff" stroke="#000" stroke-opacity="0.8" stroke-width="1"/>
<rect x="474.88" y="389.71" width="13.28" height="200.79" fill="#6666ff" stroke="#000" stroke-opacity="0.8" stroke-width="1"/>
<rect x="488.16" y="486.87" width="13.28" height="103.63" fill="#6666ff" stroke="#000" stroke-opacity="0.8" stroke-width="1"/>
<rect x="501.44" y="536.78" width="13.28" height="53.72" fill="#6666ff" stroke="#000" stroke-opacity="0.8" stroke-width="1"/>
<rect x="514.72" y="550.11" width="13.28" height="40.39" fill="#6666ff" stroke="#000" stroke-opacity="0.8" stroke-width="1"/>
<rect x="528" y="556.02" width="13.28" height="34.48" fill="#6666ff" stroke="#000" stroke-opacity="0.8" stroke-width="1"/>
<rect x="541.28" y="572.21" width="13.28" height="18.29" fill="#6666ff" stroke="#000" stroke-opacity="0.8" stroke-width="1"/>
<rect x="554.56" y="583.83" width="13.28" height="6.67" fill="#6666ff" stroke="#000" stroke-opacity="0.8" stroke-width="1"/>
<rect x="567.84" y="586.12" width="13.28" height="4.38" fill="#6666ff" stroke="#000" stroke-opacity="0.8" stroke-width="1"/>
<rect x="581.12" y="587.83" width="13.28" height="2.67" fill="#6666ff" stroke="#000" stroke-opacity="0.8" stroke-width="1"/>
<path d="M355.36 590.5v-5.2M355.36 209.5v5.2M381.92 590.5v-5.2M381.92 209.5v5.2M408.48 590.5v-5.2M408.48 209.5v5.2M435.04 590.5v-5.2M435.04 209.5v5.2M461.6 590.5v-5.2M461.6 209.5v5.2M488.16 590.5v-5.2M488.16 209.5v5.2M514.72 590.5v-5.2M514.72 209.5v5.2M541.28 590.5v-5.2M541.28 209.5v5.2M567.84 590.5v-5.2M567.84 209.5v5.2M328.8 495.25h5.2M594.4 495.25h-5.2M328.8 400h5.2M594.4 400h-5.2M328.8 304.75h5.2M594.4 304.75h-5.2" stroke="#262626" stroke-width="1.6" fill="none"/>
<rect x="328.8" y="209.5" width="265.6" height="381" fill="none" stroke="#262626" stroke-width="2"/>
<g font-family="Liberation Sans, sans-serif" font-size="23.3" font-weight="bold" fill="#262626">
<text x="320.2" y="599.9" text-anchor="end">0</text>
<text x="320.2" y="504.65" text-anchor="end">5</text>
<text x="320.2" y="409.4" text-anchor="end">10</text>
<text x="320.2" y="314.15" text-anchor="end">15</text>
<text x="320.2" y="218.9" text-anchor="end">20</text>
<text transform="translate(337.8 601.3) rotate(-90)" text-anchor="end">-50</text>
<text transform="translate(364.36 601.3) rotate(-90)" text-anchor="end">-40</text>
<text transform="translate(390.92 601.3) rotate(-90)" text-anchor="end">-30</text>
<text transform="translate(417.48 601.3) rotate(-90)" text-anchor="end">-20</text>
<text transform="translate(444.04 601.3) rotate(-90)" text-anchor="end">-10</text>
<text transform="translate(470.6 601.3) rotate(-90)" text-anchor="end">0</text>
<text transform="translate(497.16 601.3) rotate(-90)" text-anchor="end">10</text>
<text transform="translate(523.72 601.3) rotate(-90)" text-anchor="end">20</text>
<text transform="translate(550.28 601.3) rotate(-90)" text-anchor="end">30</text>
<text transform="translate(576.84 601.3) rotate(-90)" text-anchor="end">40</text>
<text transform="translate(603.4 601.3) rotate(-90)" text-anchor="end">50</text>
</g>
<text x="462" y="662.1" text-anchor="middle" font-family="Liberation Sans, sans-serif" font-size="25.9" font-weight="bold" fill="#262626">37yr Change (m)</text>
<text transform="translate(285.1 398.8) rotate(-90)" text-anchor="middle" font-family="Liberation Sans, sans-serif" font-size="25.55" font-weight="bold" fill="#262626">No. of 100m Transects (x100)</text>
<text x="355.2" y="262.6" font-family="Liberation Sans, sans-serif" font-size="35.6" font-weight="bold" fill="#000">(b)</text>
<path d="M97.3 82.7v10.9M97.3 958.5v-10.9M354.4 82.7v10.9M354.4 958.5v-10.9M611.4 82.7v10.9M611.4 958.5v-10.9M51.0 109.8h10.9M623.0 109.8h-10.9M51.0 518.3h10.9M623.0 518.3h-10.9M51.0 926.8h10.9M623.0 926.8h-10.9" stroke="#262626" stroke-width="4.2" fill="none"/>
<rect x="51.0" y="82.7" width="572.0" height="875.8" fill="none" stroke="#262626" stroke-width="4.2"/>
<g font-family="Liberation Sans, sans-serif" font-size="23" fill="#262626">
<text x="42.5" y="119.3" text-anchor="end">42N</text>
<text x="42.5" y="527.8" text-anchor="end">37N</text>
<text x="42.5" y="936.3" text-anchor="end">32N</text>
<text x="97.3" y="988.8" text-anchor="middle">124W</text>
<text x="354.4" y="988.8" text-anchor="middle">120W</text>
<text x="611.4" y="988.8" text-anchor="middle">116W</text>
</g>
<g font-family="Liberation Sans, sans-serif" font-size="34.8" font-weight="bold" fill="#000"><text x="60.8" y="25.5">(a)</text><text x="122.6" y="25.5">Landsat Beach Width Change</text><text x="241.8" y="69.6">(1985-2021)</text></g>
<rect x="726.5" y="44.4" width="1226" height="391.3" fill="#fff"/>
<path d="M760.56 44.4V435.7M794.61 44.4V435.7M828.67 44.4V435.7M862.72 44.4V435.7M896.78 44.4V435.7M930.83 44.4V435.7M964.89 44.4V435.7M998.94 44.4V435.7M1033 44.4V435.7M1067.06 44.4V435.7M1101.11 44.4V435.7M1135.17 44.4V435.7M1169.22 44.4V435.7M1203.28 44.4V435.7M1237.33 44.4V435.7M1271.39 44.4V435.7M1305.44 44.4V435.7M1339.5 44.4V435.7M1373.56 44.4V435.7M1407.61 44.4V435.7M1441.67 44.4V435.7M1475.72 44.4V435.7M1509.78 44.4V435.7M1543.83 44.4V435.7M1577.89 44.4V435.7M1611.94 44.4V435.7M1646 44.4V435.7M1680.06 44.4V435.7M1714.11 44.4V435.7M1748.17 44.4V435.7M1782.22 44.4V435.7M1816.28 44.4V435.7M1850.33 44.4V435.7M1884.39 44.4V435.7M1918.44 44.4V435.7" stroke="#262626" stroke-opacity="0.16" stroke-width="3" fill="none"/>
<path d="M726.5 403H1952.5M726.5 321.5H1952.5M726.5 240H1952.5M726.5 158.5H1952.5M726.5 77H1952.5" stroke="#262626" stroke-opacity="0.19" stroke-width="3" fill="none"/>
<path d="M760.56 44.4v13.5M760.56 435.7v-13.5M794.61 44.4v13.5M794.61 435.7v-13.5M828.67 44.4v13.5M828.67 435.7v-13.5M862.72 44.4v13.5M862.72 435.7v-13.5M896.78 44.4v13.5M896.78 435.7v-13.5M930.83 44.4v13.5M930.83 435.7v-13.5M964.89 44.4v13.5M964.89 435.7v-13.5M998.94 44.4v13.5M998.94 435.7v-13.5M1033 44.4v13.5M1033 435.7v-13.5M1067.06 44.4v13.5M1067.06 435.7v-13.5M1101.11 44.4v13.5M1101.11 435.7v-13.5M1135.17 44.4v13.5M1135.17 435.7v-13.5M1169.22 44.4v13.5M1169.22 435.7v-13.5M1203.28 44.4v13.5M1203.28 435.7v-13.5M1237.33 44.4v13.5M1237.33 435.7v-13.5M1271.39 44.4v13.5M1271.39 435.7v-13.5M1305.44 44.4v13.5M1305.44 435.7v-13.5M1339.5 44.4v13.5M1339.5 435.7v-13.5M1373.56 44.4v13.5M1373.56 435.7v-13.5M1407.61 44.4v13.5M1407.61 435.7v-13.5M1441.67 44.4v13.5M1441.67 435.7v-13.5M1475.72 44.4v13.5M1475.72 435.7v-13.5M1509.78 44.4v13.5M1509.78 435.7v-13.5M1543.83 44.4v13.5M1543.83 435.7v-13.5M1577.89 44.4v13.5M1577.89 435.7v-13.5M1611.94 44.4v13.5M1611.94 435.7v-13.5M1646 44.4v13.5M1646 435.7v-13.5M1680.06 44.4v13.5M1680.06 435.7v-13.5M1714.11 44.4v13.5M1714.11 435.7v-13.5M1748.17 44.4v13.5M1748.17 435.7v-13.5M1782.22 44.4v13.5M1782.22 435.7v-13.5M1816.28 44.4v13.5M1816.28 435.7v-13.5M1850.33 44.4v13.5M1850.33 435.7v-13.5M1884.39 44.4v13.5M1884.39 435.7v-13.5M1918.44 44.4v13.5M1918.44 435.7v-13.5" stroke="#262626" stroke-width="2.7" fill="none"/>
<path d="M725.15 44.4H1953.85M725.15 435.7H1953.85" stroke="#262626" stroke-width="2.7" fill="none"/>
<path d="M726.5 43.05V437.05M1952.5 43.05V437.05" stroke="#000" stroke-width="2.7" fill="none"/>
<rect x="777.58" y="46" width="34.06" height="388.35" fill="#cbcbcb" fill-opacity="0.8"/>
<rect x="947.86" y="46" width="34.06" height="388.35" fill="#cbcbcb" fill-opacity="0.8"/>
<rect x="1152.19" y="46" width="34.06" height="388.35" fill="#cbcbcb" fill-opacity="0.8"/>
<rect x="1322.47" y="46" width="34.06" height="388.35" fill="#cbcbcb" fill-opacity="0.8"/>
<rect x="1560.86" y="46" width="34.06" height="388.35" fill="#cbcbcb" fill-opacity="0.8"/>
<rect x="1765.19" y="46" width="34.06" height="388.35" fill="#cbcbcb" fill-opacity="0.8"/>
<clipPath id="clipc"><rect x="725.8" y="44.4" width="1227.5" height="391.3"/></clipPath>
<g clip-path="url(#clipc)">
<polyline points="726.5,240 760.56,300.64 794.61,329 828.67,242.93 862.72,170.56 896.78,140.9 930.83,210.5 964.89,231.03 998.94,299.5 1033,202.51 1067.06,270.48 1101.11,266.89 1135.17,220.6 1169.22,325.57 1203.28,286.78 1237.33,233.15 1271.39,240.81 1305.44,200.72 1339.5,249.29 1373.56,211.64 1407.61,210.17 1441.67,222.56 1475.72,199.09 1509.78,240.33 1543.83,191.26 1577.89,316.61 1611.94,240.81 1646,187.51 1680.06,119.87 1714.11,111.56 1748.17,143.67 1782.22,258.26 1816.28,274.72 1850.33,180.02 1884.39,235.11 1918.44,186.21 1952.5,235.11" fill="none" stroke="#000" stroke-width="2.875" stroke-linejoin="round"/>
<circle cx="726.5" cy="240" r="4.35" fill="#000"/>
<circle cx="760.56" cy="300.64" r="4.35" fill="#000"/>
<circle cx="794.61" cy="329" r="4.35" fill="#000"/>
<circle cx="828.67" cy="242.93" r="4.35" fill="#000"/>
<circle cx="862.72" cy="170.56" r="4.35" fill="#000"/>
<circle cx="896.78" cy="140.9" r="4.35" fill="#000"/>
<circle cx="930.83" cy="210.5" r="4.35" fill="#000"/>
<circle cx="964.89" cy="231.03" r="4.35" fill="#000"/>
<circle cx="998.94" cy="299.5" r="4.35" fill="#000"/>
<circle cx="1033" cy="202.51" r="4.35" fill="#000"/>
<circle cx="1067.06" cy="270.48" r="4.35" fill="#000"/>
<circle cx="1101.11" cy="266.89" r="4.35" fill="#000"/>
<circle cx="1135.17" cy="220.6" r="4.35" fill="#000"/>
<circle cx="1169.22" cy="325.57" r="4.35" fill="#000"/>
<circle cx="1203.28" cy="286.78" r="4.35" fill="#000"/>
<circle cx="1237.33" cy="233.15" r="4.35" fill="#000"/>
<circle cx="1271.39" cy="240.81" r="4.35" fill="#000"/>
<circle cx="1305.44" cy="200.72" r="4.35" fill="#000"/>
<circle cx="1339.5" cy="249.29" r="4.35" fill="#000"/>
<circle cx="1373.56" cy="211.64" r="4.35" fill="#000"/>
<circle cx="1407.61" cy="210.17" r="4.35" fill="#000"/>
<circle cx="1441.67" cy="222.56" r="4.35" fill="#000"/>
<circle cx="1475.72" cy="199.09" r="4.35" fill="#000"/>
<circle cx="1509.78" cy="240.33" r="4.35" fill="#000"/>
<circle cx="1543.83" cy="191.26" r="4.35" fill="#000"/>
<circle cx="1577.89" cy="316.61" r="4.35" fill="#000"/>
<circle cx="1611.94" cy="240.81" r="4.35" fill="#000"/>
<circle cx="1646" cy="187.51" r="4.35" fill="#000"/>
<circle cx="1680.06" cy="119.87" r="4.35" fill="#000"/>
<circle cx="1714.11" cy="111.56" r="4.35" fill="#000"/>
<circle cx="1748.17" cy="143.67" r="4.35" fill="#000"/>
<circle cx="1782.22" cy="258.26" r="4.35" fill="#000"/>
<circle cx="1816.28" cy="274.72" r="4.35" fill="#000"/>
<circle cx="1850.33" cy="180.02" r="4.35" fill="#000"/>
<circle cx="1884.39" cy="235.11" r="4.35" fill="#000"/>
<circle cx="1918.44" cy="186.21" r="4.35" fill="#000"/>
<circle cx="1952.5" cy="235.11" r="4.35" fill="#000"/>
<polyline points="726.5,240 760.56,327.2 794.61,371.87 828.67,204.63 862.72,116.77 896.78,105.04 930.83,155.73 964.89,193.22 998.94,288.57 1033,183.44 1067.06,278.31 1101.11,279.94 1135.17,206.26 1169.22,336.82 1203.28,323.46 1237.33,264.12 1271.39,284.66 1305.44,220.77 1339.5,283.52 1373.56,238.37 1407.61,241.63 1441.67,269.01 1475.72,219.3 1509.78,273.9 1543.83,222.4 1577.89,363.23 1611.94,281.24 1646,212.13 1680.06,114.65 1714.11,96.07 1748.17,136.01 1782.22,269.01 1816.28,302.75 1850.33,188.66 1884.39,266.41 1918.44,223.37 1952.5,271.13" fill="none" stroke="#0000b3" stroke-width="2.875" stroke-linejoin="round" stroke-dasharray="14.3 9.7"/>
<path d="M726.5 230.2L718.01 244.9L734.99 244.9Z" fill="none" stroke="#0000b3" stroke-width="2.9" stroke-linejoin="miter"/>
<path d="M760.56 317.4L752.07 332.1L769.04 332.1Z" fill="none" stroke="#0000b3" stroke-width="2.9" stroke-linejoin="miter"/>
<path d="M794.61 362.07L786.12 376.77L803.1 376.77Z" fill="none" stroke="#0000b3" stroke-width="2.9" stroke-linejoin="miter"/>
<path d="M828.67 194.83L820.18 209.53L837.15 209.53Z" fill="none" stroke="#0000b3" stroke-width="2.9" stroke-linejoin="miter"/>
<path d="M862.72 106.97L854.24 121.67L871.21 121.67Z" fill="none" stroke="#0000b3" stroke-width="2.9" stroke-linejoin="miter"/>
<path d="M896.78 95.24L888.29 109.94L905.26 109.94Z" fill="none" stroke="#0000b3" stroke-width="2.9" stroke-linejoin="miter"/>
<path d="M930.83 145.93L922.35 160.63L939.32 160.63Z" fill="none" stroke="#0000b3" stroke-width="2.9" stroke-linejoin="miter"/>
<path d="M964.89 183.42L956.4 198.12L973.38 198.12Z" fill="none" stroke="#0000b3" stroke-width="2.9" stroke-linejoin="miter"/>
<path d="M998.94 278.77L990.46 293.47L1007.43 293.47Z" fill="none" stroke="#0000b3" stroke-width="2.9" stroke-linejoin="miter"/>
<path d="M1033 173.64L1024.51 188.34L1041.49 188.34Z" fill="none" stroke="#0000b3" stroke-width="2.9" stroke-linejoin="miter"/>
<path d="M1067.06 268.5L1058.57 283.2L1075.54 283.2Z" fill="none" stroke="#0000b3" stroke-width="2.9" stroke-linejoin="miter"/>
<path d="M1101.11 270.13L1092.62 284.83L1109.6 284.83Z" fill="none" stroke="#0000b3" stroke-width="2.9" stroke-linejoin="miter"/>
<path d="M1135.17 196.46L1126.68 211.16L1143.65 211.16Z" fill="none" stroke="#0000b3" stroke-width="2.9" stroke-linejoin="miter"/>
<path d="M1169.22 327.02L1160.74 341.72L1177.71 341.72Z" fill="none" stroke="#0000b3" stroke-width="2.9" stroke-linejoin="miter"/>
<path d="M1203.28 313.66L1194.79 328.36L1211.76 328.36Z" fill="none" stroke="#0000b3" stroke-width="2.9" stroke-linejoin="miter"/>
<path d="M1237.33 254.32L1228.85 269.02L1245.82 269.02Z" fill="none" stroke="#0000b3" stroke-width="2.9" stroke-linejoin="miter"/>
<path d="M1271.39 274.86L1262.9 289.56L1279.88 289.56Z" fill="none" stroke="#0000b3" stroke-width="2.9" stroke-linejoin="miter"/>
<path d="M1305.44 210.97L1296.96 225.67L1313.93 225.67Z" fill="none" stroke="#0000b3" stroke-width="2.9" stroke-linejoin="miter"/>
<path d="M1339.5 273.72L1331.01 288.42L1347.99 288.42Z" fill="none" stroke="#0000b3" stroke-width="2.9" stroke-linejoin="miter"/>
<path d="M1373.56 228.57L1365.07 243.27L1382.04 243.27Z" fill="none" stroke="#0000b3" stroke-width="2.9" stroke-linejoin="miter"/>
<path d="M1407.61 231.83L1399.12 246.53L1416.1 246.53Z" fill="none" stroke="#0000b3" stroke-width="2.9" stroke-linejoin="miter"/>
<path d="M1441.67 259.21L1433.18 273.91L1450.15 273.91Z" fill="none" stroke="#0000b3" stroke-width="2.9" stroke-linejoin="miter"/>
<path d="M1475.72 209.5L1467.24 224.2L1484.21 224.2Z" fill="none" stroke="#0000b3" stroke-width="2.9" stroke-linejoin="miter"/>
<path d="M1509.78 264.1L1501.29 278.8L1518.26 278.8Z" fill="none" stroke="#0000b3" stroke-width="2.9" stroke-linejoin="miter"/>
<path d="M1543.83 212.6L1535.35 227.3L1552.32 227.3Z" fill="none" stroke="#0000b3" stroke-width="2.9" stroke-linejoin="miter"/>
<path d="M1577.89 353.43L1569.4 368.13L1586.38 368.13Z" fill="none" stroke="#0000b3" stroke-width="2.9" stroke-linejoin="miter"/>
<path d="M1611.94 271.44L1603.46 286.14L1620.43 286.14Z" fill="none" stroke="#0000b3" stroke-width="2.9" stroke-linejoin="miter"/>
<path d="M1646 202.33L1637.51 217.03L1654.49 217.03Z" fill="none" stroke="#0000b3" stroke-width="2.9" stroke-linejoin="miter"/>
<path d="M1680.06 104.85L1671.57 119.55L1688.54 119.55Z" fill="none" stroke="#0000b3" stroke-width="2.9" stroke-linejoin="miter"/>
<path d="M1714.11 86.27L1705.62 100.97L1722.6 100.97Z" fill="none" stroke="#0000b3" stroke-width="2.9" stroke-linejoin="miter"/>
<path d="M1748.17 126.21L1739.68 140.91L1756.65 140.91Z" fill="none" stroke="#0000b3" stroke-width="2.9" stroke-linejoin="miter"/>
<path d="M1782.22 259.21L1773.74 273.91L1790.71 273.91Z" fill="none" stroke="#0000b3" stroke-width="2.9" stroke-linejoin="miter"/>
<path d="M1816.28 292.95L1807.79 307.65L1824.76 307.65Z" fill="none" stroke="#0000b3" stroke-width="2.9" stroke-linejoin="miter"/>
<path d="M1850.33 178.85L1841.85 193.56L1858.82 193.56Z" fill="none" stroke="#0000b3" stroke-width="2.9" stroke-linejoin="miter"/>
<path d="M1884.39 256.61L1875.9 271.31L1892.88 271.31Z" fill="none" stroke="#0000b3" stroke-width="2.9" stroke-linejoin="miter"/>
<path d="M1918.44 213.57L1909.96 228.27L1926.93 228.27Z" fill="none" stroke="#0000b3" stroke-width="2.9" stroke-linejoin="miter"/>
<path d="M1952.5 261.33L1944.01 276.03L1960.99 276.03Z" fill="none" stroke="#0000b3" stroke-width="2.9" stroke-linejoin="miter"/>
<polyline points="726.5,240 760.56,267.06 794.61,275.05 828.67,291.51 862.72,238.37 896.78,186.86 930.83,279.77 964.89,278.96 998.94,314.17 1033,227.94 1067.06,262.17 1101.11,250.27 1135.17,238.21 1169.22,313.35 1203.28,240 1237.33,194.03 1271.39,185.23 1305.44,175.94 1339.5,205.12 1373.56,178.55 1407.61,170.56 1441.67,162.57 1475.72,173.33 1509.78,197.13 1543.83,151.98 1577.89,257.77 1611.94,190.12 1646,155.73 1680.06,128.02 1714.11,131.93 1748.17,153.61 1782.22,246.19 1816.28,239.19 1850.33,170.72 1884.39,196.15 1918.44,139.27 1952.5,189.96" fill="none" stroke="#0000b3" stroke-width="2.875" stroke-linejoin="round" stroke-dasharray="2.9 3.1"/>
<circle cx="726.5" cy="240" r="7.2" fill="none" stroke="#0000b3" stroke-width="2.9"/>
<circle cx="760.56" cy="267.06" r="7.2" fill="none" stroke="#0000b3" stroke-width="2.9"/>
<circle cx="794.61" cy="275.05" r="7.2" fill="none" stroke="#0000b3" stroke-width="2.9"/>
<circle cx="828.67" cy="291.51" r="7.2" fill="none" stroke="#0000b3" stroke-width="2.9"/>
<circle cx="862.72" cy="238.37" r="7.2" fill="none" stroke="#0000b3" stroke-width="2.9"/>
<circle cx="896.78" cy="186.86" r="7.2" fill="none" stroke="#0000b3" stroke-width="2.9"/>
<circle cx="930.83" cy="279.77" r="7.2" fill="none" stroke="#0000b3" stroke-width="2.9"/>
<circle cx="964.89" cy="278.96" r="7.2" fill="none" stroke="#0000b3" stroke-width="2.9"/>
<circle cx="998.94" cy="314.17" r="7.2" fill="none" stroke="#0000b3" stroke-width="2.9"/>
<circle cx="1033" cy="227.94" r="7.2" fill="none" stroke="#0000b3" stroke-width="2.9"/>
<circle cx="1067.06" cy="262.17" r="7.2" fill="none" stroke="#0000b3" stroke-width="2.9"/>
<circle cx="1101.11" cy="250.27" r="7.2" fill="none" stroke="#0000b3" stroke-width="2.9"/>
<circle cx="1135.17" cy="238.21" r="7.2" fill="none" stroke="#0000b3" stroke-width="2.9"/>
<circle cx="1169.22" cy="313.35" r="7.2" fill="none" stroke="#0000b3" stroke-width="2.9"/>
<circle cx="1203.28" cy="240" r="7.2" fill="none" stroke="#0000b3" stroke-width="2.9"/>
<circle cx="1237.33" cy="194.03" r="7.2" fill="none" stroke="#0000b3" stroke-width="2.9"/>
<circle cx="1271.39" cy="185.23" r="7.2" fill="none" stroke="#0000b3" stroke-width="2.9"/>
<circle cx="1305.44" cy="175.94" r="7.2" fill="none" stroke="#0000b3" stroke-width="2.9"/>
<circle cx="1339.5" cy="205.12" r="7.2" fill="none" stroke="#0000b3" stroke-width="2.9"/>
<circle cx="1373.56" cy="178.55" r="7.2" fill="none" stroke="#0000b3" stroke-width="2.9"/>
<circle cx="1407.61" cy="170.56" r="7.2" fill="none" stroke="#0000b3" stroke-width="2.9"/>
<circle cx="1441.67" cy="162.57" r="7.2" fill="none" stroke="#0000b3" stroke-width="2.9"/>
<circle cx="1475.72" cy="173.33" r="7.2" fill="none" stroke="#0000b3" stroke-width="2.9"/>
<circle cx="1509.78" cy="197.13" r="7.2" fill="none" stroke="#0000b3" stroke-width="2.9"/>
<circle cx="1543.83" cy="151.98" r="7.2" fill="none" stroke="#0000b3" stroke-width="2.9"/>
<circle cx="1577.89" cy="257.77" r="7.2" fill="none" stroke="#0000b3" stroke-width="2.9"/>
<circle cx="1611.94" cy="190.12" r="7.2" fill="none" stroke="#0000b3" stroke-width="2.9"/>
<circle cx="1646" cy="155.73" r="7.2" fill="none" stroke="#0000b3" stroke-width="2.9"/>
<circle cx="1680.06" cy="128.02" r="7.2" fill="none" stroke="#0000b3" stroke-width="2.9"/>
<circle cx="1714.11" cy="131.93" r="7.2" fill="none" stroke="#0000b3" stroke-width="2.9"/>
<circle cx="1748.17" cy="153.61" r="7.2" fill="none" stroke="#0000b3" stroke-width="2.9"/>
<circle cx="1782.22" cy="246.19" r="7.2" fill="none" stroke="#0000b3" stroke-width="2.9"/>
<circle cx="1816.28" cy="239.19" r="7.2" fill="none" stroke="#0000b3" stroke-width="2.9"/>
<circle cx="1850.33" cy="170.72" r="7.2" fill="none" stroke="#0000b3" stroke-width="2.9"/>
<circle cx="1884.39" cy="196.15" r="7.2" fill="none" stroke="#0000b3" stroke-width="2.9"/>
<circle cx="1918.44" cy="139.27" r="7.2" fill="none" stroke="#0000b3" stroke-width="2.9"/>
<circle cx="1952.5" cy="189.96" r="7.2" fill="none" stroke="#0000b3" stroke-width="2.9"/>
<path d="M726.5 240.5H1952.5" stroke="#000" stroke-width="1.3" stroke-opacity="0.9" fill="none"/>
</g>
<path d="M726.5 403h13.5M1952.5 403h-13.5M726.5 321.5h13.5M1952.5 321.5h-13.5M726.5 240h13.5M1952.5 240h-13.5M726.5 158.5h13.5M1952.5 158.5h-13.5M726.5 77h13.5M1952.5 77h-13.5" stroke="#000" stroke-width="2.7" fill="none"/>
<g font-family="Liberation Sans, sans-serif" font-size="25.9" fill="#000">
<text x="716.5" y="413.3" text-anchor="end">-10</text>
<text x="1960.5" y="413.3">-10</text>
<text x="716.5" y="331.8" text-anchor="end">-5</text>
<text x="1960.5" y="331.8">-5</text>
<text x="716.5" y="250.3" text-anchor="end">0</text>
<text x="1960.5" y="250.3">0</text>
<text x="716.5" y="168.8" text-anchor="end">5</text>
<text x="1960.5" y="168.8">5</text>
<text x="716.5" y="87.3" text-anchor="end">10</text>
<text x="1960.5" y="87.3">10</text>
</g>
<text transform="translate(667.2 239.3) rotate(-90)" text-anchor="middle" font-family="Liberation Sans, sans-serif" font-size="28.75" fill="#000">Cumulative Change (m)</text>
<rect x="1165.7" y="55.7" width="348.1" height="90.3" fill="#fff" stroke="#262626" stroke-width="2.7"/>
<path d="M1171.1 72.7H1214.8" stroke="#000" stroke-width="2.875"/>
<circle cx="1193.1" cy="72.7" r="4.35" fill="#000"/>
<path d="M1171.1 101.2H1214.8" stroke="#0000b3" stroke-width="2.875" stroke-dasharray="11 13"/>
<path d="M1193.1 91.7L1184.61 106.4L1201.59 106.4Z" fill="none" stroke="#0000b3" stroke-width="2.9" stroke-linejoin="miter"/>
<path d="M1171.1 129.7H1214.8" stroke="#0000b3" stroke-width="2.875" stroke-dasharray="2.9 3.1"/>
<circle cx="1193.1" cy="129.7" r="7.2" fill="none" stroke="#0000b3" stroke-width="2.9"/>
<g font-family="Liberation Sans, sans-serif" font-size="23.2" fill="#000">
<text x="1219.4" y="81.2">Ensenada to CA-OR Border</text>
<text x="1219.4" y="110.2">North of Pt Conception</text>
<text x="1219.4" y="137.9">South of Pt Conception</text>
</g>
<rect x="728.6" y="518.5" width="1225.8" height="391.8" fill="#fff"/>
<path d="M762.65 518.5V910.3M796.7 518.5V910.3M830.75 518.5V910.3M864.8 518.5V910.3M898.85 518.5V910.3M932.9 518.5V910.3M966.95 518.5V910.3M1001 518.5V910.3M1035.05 518.5V910.3M1069.1 518.5V910.3M1103.15 518.5V910.3M1137.2 518.5V910.3M1171.25 518.5V910.3M1205.3 518.5V910.3M1239.35 518.5V910.3M1273.4 518.5V910.3M1307.45 518.5V910.3M1341.5 518.5V910.3M1375.55 518.5V910.3M1409.6 518.5V910.3M1443.65 518.5V910.3M1477.7 518.5V910.3M1511.75 518.5V910.3M1545.8 518.5V910.3M1579.85 518.5V910.3M1613.9 518.5V910.3M1647.95 518.5V910.3M1682 518.5V910.3M1716.05 518.5V910.3M1750.1 518.5V910.3M1784.15 518.5V910.3M1818.2 518.5V910.3M1852.25 518.5V910.3M1886.3 518.5V910.3M1920.35 518.5V910.3" stroke="#262626" stroke-opacity="0.16" stroke-width="3" fill="none"/>
<path d="M728.6 885H1954.4M728.6 842.38H1954.4M728.6 799.75H1954.4M728.6 757.12H1954.4M728.6 714.5H1954.4M728.6 671.88H1954.4M728.6 629.25H1954.4M728.6 586.62H1954.4M728.6 544H1954.4" stroke="#262626" stroke-opacity="0.19" stroke-width="3" fill="none"/>
<path d="M762.65 518.5v13.5M762.65 910.3v-13.5M796.7 518.5v13.5M796.7 910.3v-13.5M830.75 518.5v13.5M830.75 910.3v-13.5M864.8 518.5v13.5M864.8 910.3v-13.5M898.85 518.5v13.5M898.85 910.3v-13.5M932.9 518.5v13.5M932.9 910.3v-13.5M966.95 518.5v13.5M966.95 910.3v-13.5M1001 518.5v13.5M1001 910.3v-13.5M1035.05 518.5v13.5M1035.05 910.3v-13.5M1069.1 518.5v13.5M1069.1 910.3v-13.5M1103.15 518.5v13.5M1103.15 910.3v-13.5M1137.2 518.5v13.5M1137.2 910.3v-13.5M1171.25 518.5v13.5M1171.25 910.3v-13.5M1205.3 518.5v13.5M1205.3 910.3v-13.5M1239.35 518.5v13.5M1239.35 910.3v-13.5M1273.4 518.5v13.5M1273.4 910.3v-13.5M1307.45 518.5v13.5M1307.45 910.3v-13.5M1341.5 518.5v13.5M1341.5 910.3v-13.5M1375.55 518.5v13.5M1375.55 910.3v-13.5M1409.6 518.5v13.5M1409.6 910.3v-13.5M1443.65 518.5v13.5M1443.65 910.3v-13.5M1477.7 518.5v13.5M1477.7 910.3v-13.5M1511.75 518.5v13.5M1511.75 910.3v-13.5M1545.8 518.5v13.5M1545.8 910.3v-13.5M1579.85 518.5v13.5M1579.85 910.3v-13.5M1613.9 518.5v13.5M1613.9 910.3v-13.5M1647.95 518.5v13.5M1647.95 910.3v-13.5M1682 518.5v13.5M1682 910.3v-13.5M1716.05 518.5v13.5M1716.05 910.3v-13.5M1750.1 518.5v13.5M1750.1 910.3v-13.5M1784.15 518.5v13.5M1784.15 910.3v-13.5M1818.2 518.5v13.5M1818.2 910.3v-13.5M1852.25 518.5v13.5M1852.25 910.3v-13.5M1886.3 518.5v13.5M1886.3 910.3v-13.5M1920.35 518.5v13.5M1920.35 910.3v-13.5" stroke="#262626" stroke-width="2.7" fill="none"/>
<path d="M727.25 518.5H1955.75M727.25 910.3H1955.75" stroke="#262626" stroke-width="2.7" fill="none"/>
<path d="M728.6 517.15V911.65M1954.4 517.15V911.65" stroke="#000" stroke-width="2.7" fill="none"/>
<rect x="779.68" y="519" width="34.05" height="390.7" fill="#cbcbcb" fill-opacity="0.8"/>
<rect x="949.93" y="519" width="34.05" height="390.7" fill="#cbcbcb" fill-opacity="0.8"/>
<rect x="1154.23" y="519" width="34.05" height="390.7" fill="#cbcbcb" fill-opacity="0.8"/>
<rect x="1324.48" y="519" width="34.05" height="390.7" fill="#cbcbcb" fill-opacity="0.8"/>
<rect x="1562.83" y="519" width="34.05" height="390.7" fill="#cbcbcb" fill-opacity="0.8"/>
<rect x="1767.12" y="519" width="34.05" height="390.7" fill="#cbcbcb" fill-opacity="0.8"/>
<clipPath id="clipd"><rect x="727.9" y="518.5" width="1227.3" height="391.8"/></clipPath>
<g clip-path="url(#clipd)">
<polyline points="728.6,714.5 762.65,746.21 796.7,761.05 830.75,716.03 864.8,678.18 898.85,662.67 932.9,699.07 966.95,709.81 1001,745.62 1035.05,694.89 1069.1,730.44 1103.15,728.57 1137.2,704.36 1171.25,759.26 1205.3,738.97 1239.35,710.92 1273.4,714.93 1307.45,693.95 1341.5,719.36 1375.55,699.67 1409.6,698.9 1443.65,705.38 1477.7,693.1 1511.75,714.67 1545.8,689.01 1579.85,754.57 1613.9,714.93 1647.95,687.05 1682,651.67 1716.05,647.32 1750.1,664.12 1784.15,724.05 1818.2,732.66 1852.25,683.13 1886.3,711.94 1920.35,686.37 1954.4,711.94" fill="none" stroke="#000" stroke-width="3.6" stroke-linejoin="round"/>
<circle cx="728.6" cy="714.5" r="4.7" fill="#000"/>
<circle cx="762.65" cy="746.21" r="4.7" fill="#000"/>
<circle cx="796.7" cy="761.05" r="4.7" fill="#000"/>
<circle cx="830.75" cy="716.03" r="4.7" fill="#000"/>
<circle cx="864.8" cy="678.18" r="4.7" fill="#000"/>
<circle cx="898.85" cy="662.67" r="4.7" fill="#000"/>
<circle cx="932.9" cy="699.07" r="4.7" fill="#000"/>
<circle cx="966.95" cy="709.81" r="4.7" fill="#000"/>
<circle cx="1001" cy="745.62" r="4.7" fill="#000"/>
<circle cx="1035.05" cy="694.89" r="4.7" fill="#000"/>
<circle cx="1069.1" cy="730.44" r="4.7" fill="#000"/>
<circle cx="1103.15" cy="728.57" r="4.7" fill="#000"/>
<circle cx="1137.2" cy="704.36" r="4.7" fill="#000"/>
<circle cx="1171.25" cy="759.26" r="4.7" fill="#000"/>
<circle cx="1205.3" cy="738.97" r="4.7" fill="#000"/>
<circle cx="1239.35" cy="710.92" r="4.7" fill="#000"/>
<circle cx="1273.4" cy="714.93" r="4.7" fill="#000"/>
<circle cx="1307.45" cy="693.95" r="4.7" fill="#000"/>
<circle cx="1341.5" cy="719.36" r="4.7" fill="#000"/>
<circle cx="1375.55" cy="699.67" r="4.7" fill="#000"/>
<circle cx="1409.6" cy="698.9" r="4.7" fill="#000"/>
<circle cx="1443.65" cy="705.38" r="4.7" fill="#000"/>
<circle cx="1477.7" cy="693.1" r="4.7" fill="#000"/>
<circle cx="1511.75" cy="714.67" r="4.7" fill="#000"/>
<circle cx="1545.8" cy="689.01" r="4.7" fill="#000"/>
<circle cx="1579.85" cy="754.57" r="4.7" fill="#000"/>
<circle cx="1613.9" cy="714.93" r="4.7" fill="#000"/>
<circle cx="1647.95" cy="687.05" r="4.7" fill="#000"/>
<circle cx="1682" cy="651.67" r="4.7" fill="#000"/>
<circle cx="1716.05" cy="647.32" r="4.7" fill="#000"/>
<circle cx="1750.1" cy="664.12" r="4.7" fill="#000"/>
<circle cx="1784.15" cy="724.05" r="4.7" fill="#000"/>
<circle cx="1818.2" cy="732.66" r="4.7" fill="#000"/>
<circle cx="1852.25" cy="683.13" r="4.7" fill="#000"/>
<circle cx="1886.3" cy="711.94" r="4.7" fill="#000"/>
<circle cx="1920.35" cy="686.37" r="4.7" fill="#000"/>
<polyline points="728.6,714.5 762.65,747.75 796.7,763.43 830.75,712.71 864.8,666.76 898.85,638.12 932.9,672.22 966.95,685.43 1001,721.75 1035.05,664.54 1069.1,714.93 1103.15,718.68 1137.2,689.61 1171.25,753.37 1205.3,723.96 1239.35,691.23 1273.4,686.62 1307.45,659.51 1341.5,693.61 1375.55,667.61 1409.6,658.75 1443.65,668.04 1477.7,645.11 1511.75,661.56 1545.8,624.05 1579.85,698.22 1613.9,647.92 1647.95,612.2 1682,569.06 1716.05,554.23 1750.1,575.12 1784.15,645.7 1818.2,653.12 1852.25,585.77 1886.3,613.9 1920.35,569.83 1954.4,581.51" fill="none" stroke="#00f" stroke-width="3.6" stroke-linejoin="round"/>
<circle cx="728.6" cy="714.5" r="4.7" fill="#00f"/>
<circle cx="762.65" cy="747.75" r="4.7" fill="#00f"/>
<circle cx="796.7" cy="763.43" r="4.7" fill="#00f"/>
<circle cx="830.75" cy="712.71" r="4.7" fill="#00f"/>
<circle cx="864.8" cy="666.76" r="4.7" fill="#00f"/>
<circle cx="898.85" cy="638.12" r="4.7" fill="#00f"/>
<circle cx="932.9" cy="672.22" r="4.7" fill="#00f"/>
<circle cx="966.95" cy="685.43" r="4.7" fill="#00f"/>
<circle cx="1001" cy="721.75" r="4.7" fill="#00f"/>
<circle cx="1035.05" cy="664.54" r="4.7" fill="#00f"/>
<circle cx="1069.1" cy="714.93" r="4.7" fill="#00f"/>
<circle cx="1103.15" cy="718.68" r="4.7" fill="#00f"/>
<circle cx="1137.2" cy="689.61" r="4.7" fill="#00f"/>
<circle cx="1171.25" cy="753.37" r="4.7" fill="#00f"/>
<circle cx="1205.3" cy="723.96" r="4.7" fill="#00f"/>
<circle cx="1239.35" cy="691.23" r="4.7" fill="#00f"/>
<circle cx="1273.4" cy="686.62" r="4.7" fill="#00f"/>
<circle cx="1307.45" cy="659.51" r="4.7" fill="#00f"/>
<circle cx="1341.5" cy="693.61" r="4.7" fill="#00f"/>
<circle cx="1375.55" cy="667.61" r="4.7" fill="#00f"/>
<circle cx="1409.6" cy="658.75" r="4.7" fill="#00f"/>
<circle cx="1443.65" cy="668.04" r="4.7" fill="#00f"/>
<circle cx="1477.7" cy="645.11" r="4.7" fill="#00f"/>
<circle cx="1511.75" cy="661.56" r="4.7" fill="#00f"/>
<circle cx="1545.8" cy="624.05" r="4.7" fill="#00f"/>
<circle cx="1579.85" cy="698.22" r="4.7" fill="#00f"/>
<circle cx="1613.9" cy="647.92" r="4.7" fill="#00f"/>
<circle cx="1647.95" cy="612.2" r="4.7" fill="#00f"/>
<circle cx="1682" cy="569.06" r="4.7" fill="#00f"/>
<circle cx="1716.05" cy="554.23" r="4.7" fill="#00f"/>
<circle cx="1750.1" cy="575.12" r="4.7" fill="#00f"/>
<circle cx="1784.15" cy="645.7" r="4.7" fill="#00f"/>
<circle cx="1818.2" cy="653.12" r="4.7" fill="#00f"/>
<circle cx="1852.25" cy="585.77" r="4.7" fill="#00f"/>
<circle cx="1886.3" cy="613.9" r="4.7" fill="#00f"/>
<circle cx="1920.35" cy="569.83" r="4.7" fill="#00f"/>
<polyline points="728.6,714.5 762.65,744 796.7,757.98 830.75,719.27 864.8,689.61 898.85,688.24 932.9,726.35 966.95,734.36 1001,770.08 1035.05,726.35 1069.1,747.41 1103.15,738.97 1137.2,718.93 1171.25,765.48 1205.3,754.4 1239.35,731.38 1273.4,744.34 1307.45,729.33 1341.5,745.36 1375.55,733.34 1409.6,740.42 1443.65,744.25 1477.7,742.8 1511.75,770.25 1545.8,756.19 1579.85,813.22 1613.9,784.92 1647.95,764.63 1682,737.77 1716.05,743.57 1750.1,756.19 1784.15,806.74 1818.2,815.78 1852.25,784.75 1886.3,814.41 1920.35,807.34 1954.4,846.64" fill="none" stroke="#f00" stroke-width="3.6" stroke-linejoin="round"/>
<circle cx="728.6" cy="714.5" r="4.7" fill="#f00"/>
<circle cx="762.65" cy="744" r="4.7" fill="#f00"/>
<circle cx="796.7" cy="757.98" r="4.7" fill="#f00"/>
<circle cx="830.75" cy="719.27" r="4.7" fill="#f00"/>
<circle cx="864.8" cy="689.61" r="4.7" fill="#f00"/>
<circle cx="898.85" cy="688.24" r="4.7" fill="#f00"/>
<circle cx="932.9" cy="726.35" r="4.7" fill="#f00"/>
<circle cx="966.95" cy="734.36" r="4.7" fill="#f00"/>
<circle cx="1001" cy="770.08" r="4.7" fill="#f00"/>
<circle cx="1035.05" cy="726.35" r="4.7" fill="#f00"/>
<circle cx="1069.1" cy="747.41" r="4.7" fill="#f00"/>
<circle cx="1103.15" cy="738.97" r="4.7" fill="#f00"/>
<circle cx="1137.2" cy="718.93" r="4.7" fill="#f00"/>
<circle cx="1171.25" cy="765.48" r="4.7" fill="#f00"/>
<circle cx="1205.3" cy="754.4" r="4.7" fill="#f00"/>
<circle cx="1239.35" cy="731.38" r="4.7" fill="#f00"/>
<circle cx="1273.4" cy="744.34" r="4.7" fill="#f00"/>
<circle cx="1307.45" cy="729.33" r="4.7" fill="#f00"/>
<circle cx="1341.5" cy="745.36" r="4.7" fill="#f00"/>
<circle cx="1375.55" cy="733.34" r="4.7" fill="#f00"/>
<circle cx="1409.6" cy="740.42" r="4.7" fill="#f00"/>
<circle cx="1443.65" cy="744.25" r="4.7" fill="#f00"/>
<circle cx="1477.7" cy="742.8" r="4.7" fill="#f00"/>
<circle cx="1511.75" cy="770.25" r="4.7" fill="#f00"/>
<circle cx="1545.8" cy="756.19" r="4.7" fill="#f00"/>
<circle cx="1579.85" cy="813.22" r="4.7" fill="#f00"/>
<circle cx="1613.9" cy="784.92" r="4.7" fill="#f00"/>
<circle cx="1647.95" cy="764.63" r="4.7" fill="#f00"/>
<circle cx="1682" cy="737.77" r="4.7" fill="#f00"/>
<circle cx="1716.05" cy="743.57" r="4.7" fill="#f00"/>
<circle cx="1750.1" cy="756.19" r="4.7" fill="#f00"/>
<circle cx="1784.15" cy="806.74" r="4.7" fill="#f00"/>
<circle cx="1818.2" cy="815.78" r="4.7" fill="#f00"/>
<circle cx="1852.25" cy="784.75" r="4.7" fill="#f00"/>
<circle cx="1886.3" cy="814.41" r="4.7" fill="#f00"/>
<circle cx="1920.35" cy="807.34" r="4.7" fill="#f00"/>
<path d="M728.6 714.5H1954.4" stroke="#000" stroke-width="1.3" stroke-opacity="0.9" fill="none"/>
</g>
<path d="M728.6 885h13.5M1954.4 885h-13.5M728.6 842.38h13.5M1954.4 842.38h-13.5M728.6 799.75h13.5M1954.4 799.75h-13.5M728.6 757.12h13.5M1954.4 757.12h-13.5M728.6 714.5h13.5M1954.4 714.5h-13.5M728.6 671.88h13.5M1954.4 671.88h-13.5M728.6 629.25h13.5M1954.4 629.25h-13.5M728.6 586.62h13.5M1954.4 586.62h-13.5M728.6 544h13.5M1954.4 544h-13.5" stroke="#000" stroke-width="2.7" fill="none"/>
<g font-family="Liberation Sans, sans-serif" font-size="25.9" fill="#000">
<text x="717.2" y="895.3" text-anchor="end">-20</text>
<text x="1962.4" y="895.3">-20</text>
<text x="717.2" y="852.67" text-anchor="end">-15</text>
<text x="1962.4" y="852.67">-15</text>
<text x="717.2" y="810.05" text-anchor="end">-10</text>
<text x="1962.4" y="810.05">-10</text>
<text x="717.2" y="767.42" text-anchor="end">-5</text>
<text x="1962.4" y="767.42">-5</text>
<text x="717.2" y="724.8" text-anchor="end">0</text>
<text x="1962.4" y="724.8">0</text>
<text x="717.2" y="682.17" text-anchor="end">5</text>
<text x="1962.4" y="682.17">5</text>
<text x="717.2" y="639.55" text-anchor="end">10</text>
<text x="1962.4" y="639.55">10</text>
<text x="717.2" y="596.92" text-anchor="end">15</text>
<text x="1962.4" y="596.92">15</text>
<text x="717.2" y="554.3" text-anchor="end">20</text>
<text x="1962.4" y="554.3">20</text>
</g>
<text transform="translate(668.9 713.7) rotate(-90)" text-anchor="middle" font-family="Liberation Sans, sans-serif" font-size="28.75" fill="#000">Cumulative Change (m)</text>
<rect x="1167.7" y="780.8" width="348.1" height="118.4" fill="#fff" stroke="#262626" stroke-width="2.7"/>
<path d="M1173.5 797.6H1217.2" stroke="#000" stroke-width="3.6"/>
<circle cx="1195.3" cy="797.6" r="4.7" fill="#000"/>
<path d="M1173.5 825.9H1217.2" stroke="#f00" stroke-width="3.6"/>
<circle cx="1195.3" cy="825.9" r="4.7" fill="#f00"/>
<path d="M1173.5 854.3H1217.2" stroke="#00f" stroke-width="3.6"/>
<circle cx="1195.3" cy="854.3" r="4.7" fill="#00f"/>
<rect x="1173.5" y="875.4" width="43.700000000000045" height="14" fill="#d3d3d3"/>
<g font-family="Liberation Sans, sans-serif" font-size="23.2" fill="#000">
<text x="1221.2" y="805.6">Ensenada to CA-OR Border</text>
<text x="1221.2" y="833.9">All Narrowing Reaches</text>
<text x="1221.2" y="862.6">All Widening Reaches</text>
<text x="1221.2" y="890.9">El Niño Years</text>
</g>
<g font-family="Liberation Sans, sans-serif" font-size="34.8" font-weight="bold" fill="#000">
<text x="866.3" y="30.5">(c)</text><text x="938.1" y="30.5">California Annual Mean Shoreline Change since 1985</text>
<text x="964.5" y="504.5">(d)</text><text x="1056.5" y="504.5">Narrowing vs. Widening Beach Reaches</text>
</g>
<g font-family="Liberation Sans, sans-serif" font-size="25.9" fill="#262626" text-anchor="end">
<text transform="translate(780.25 937.4) rotate(-45)">1986</text>
<text transform="translate(814.3 937.4) rotate(-45)">1987</text>
<text transform="translate(848.35 937.4) rotate(-45)">1988</text>
<text transform="translate(882.4 937.4) rotate(-45)">1989</text>
<text transform="translate(916.45 937.4) rotate(-45)">1990</text>
<text transform="translate(950.5 937.4) rotate(-45)">1991</text>
<text transform="translate(984.55 937.4) rotate(-45)">1992</text>
<text transform="translate(1018.6 937.4) rotate(-45)">1993</text>
<text transform="translate(1052.65 937.4) rotate(-45)">1994</text>
<text transform="translate(1086.7 937.4) rotate(-45)">1995</text>
<text transform="translate(1120.75 937.4) rotate(-45)">1996</text>
<text transform="translate(1154.8 937.4) rotate(-45)">1997</text>
<text transform="translate(1188.85 937.4) rotate(-45)">1998</text>
<text transform="translate(1222.9 937.4) rotate(-45)">1999</text>
<text transform="translate(1256.95 937.4) rotate(-45)">2000</text>
<text transform="translate(1291 937.4) rotate(-45)">2001</text>
<text transform="translate(1325.05 937.4) rotate(-45)">2002</text>
<text transform="translate(1359.1 937.4) rotate(-45)">2003</text>
<text transform="translate(1393.15 937.4) rotate(-45)">2004</text>
<text transform="translate(1427.2 937.4) rotate(-45)">2005</text>
<text transform="translate(1461.25 937.4) rotate(-45)">2006</text>
<text transform="translate(1495.3 937.4) rotate(-45)">2007</text>
<text transform="translate(1529.35 937.4) rotate(-45)">2008</text>
<text transform="translate(1563.4 937.4) rotate(-45)">2009</text>
<text transform="translate(1597.45 937.4) rotate(-45)">2010</text>
<text transform="translate(1631.5 937.4) rotate(-45)">2011</text>
<text transform="translate(1665.55 937.4) rotate(-45)">2012</text>
<text transform="translate(1699.6 937.4) rotate(-45)">2013</text>
<text transform="translate(1733.65 937.4) rotate(-45)">2014</text>
<text transform="translate(1767.7 937.4) rotate(-45)">2015</text>
<text transform="translate(1801.75 937.4) rotate(-45)">2016</text>
<text transform="translate(1835.8 937.4) rotate(-45)">2017</text>
<text transform="translate(1869.85 937.4) rotate(-45)">2018</text>
<text transform="translate(1903.9 937.4) rotate(-45)">2019</text>
<text transform="translate(1937.95 937.4) rotate(-45)">2020</text>
<text transform="translate(1972 937.4) rotate(-45)">2021</text>
</g>
<text x="1339.8" y="1010.6" text-anchor="middle" font-family="Liberation Sans, sans-serif" font-size="28.75" fill="#262626">Oct-Sep Year</text>
</svg>
</body></html>
